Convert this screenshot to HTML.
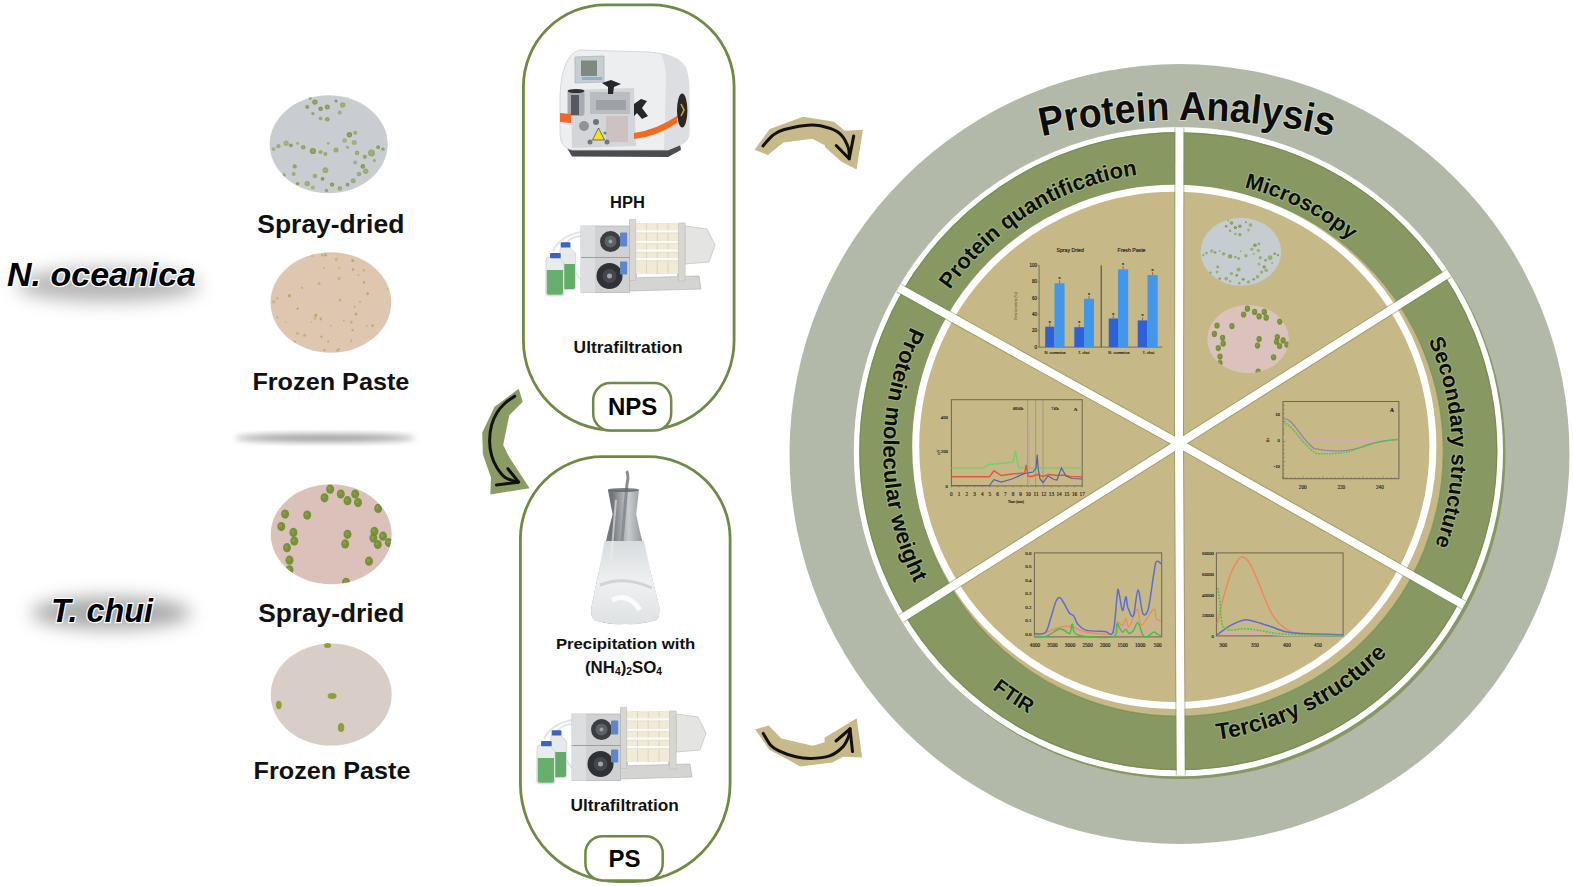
<!DOCTYPE html>
<html><head><meta charset="utf-8"><title>Protein Analysis</title>
<style>html,body{margin:0;padding:0;background:#fff;}body{width:1573px;height:886px;overflow:hidden;font-family:"Liberation Sans",sans-serif;}svg{display:block;}</style>
</head><body>
<svg width="1573" height="886" viewBox="0 0 1573 886">
<rect width="1573" height="886" fill="#fff"/>
<defs>
<filter id="blur6" x="-50%" y="-50%" width="200%" height="200%"><feGaussianBlur stdDeviation="7"/></filter>
<filter id="blur9" x="-50%" y="-80%" width="200%" height="260%"><feGaussianBlur stdDeviation="9"/></filter>
<filter id="blur3" x="-50%" y="-50%" width="200%" height="200%"><feGaussianBlur stdDeviation="3"/></filter>
<filter id="blur1" x="-20%" y="-20%" width="140%" height="140%"><feGaussianBlur stdDeviation="0.6"/></filter>
<clipPath id="wdisc"><circle cx="1178.4" cy="451.6" r="324"/></clipPath>
<clipPath id="pieclip"><circle cx="1174.3" cy="446.9" r="255.5"/></clipPath>
</defs>
<ellipse cx="108" cy="285" rx="92" ry="17" fill="#8a8a8a" filter="url(#blur9)" opacity="0.62"/>
<ellipse cx="111" cy="613" rx="80" ry="16" fill="#8a8a8a" filter="url(#blur9)" opacity="0.75"/>
<ellipse cx="325" cy="438" rx="90" ry="4" fill="#9c9c9c" filter="url(#blur3)"/>
<text x="7" y="285.7" font-size="33" font-family="Liberation Sans, sans-serif" font-weight="bold" font-style="italic" textLength="189" lengthAdjust="spacingAndGlyphs" fill="#000" stroke="#fff" stroke-width="2.5" paint-order="stroke">N. oceanica</text>
<text x="51" y="622" font-size="33" font-family="Liberation Sans, sans-serif" font-weight="bold" font-style="italic" textLength="102" lengthAdjust="spacingAndGlyphs" fill="#000" stroke="#fff" stroke-width="2.5" paint-order="stroke">T. chui</text>
<clipPath id="cl1"><ellipse cx="328.7" cy="144.3" rx="59" ry="49"/></clipPath>
<ellipse cx="328.7" cy="144.3" rx="59" ry="49" fill="#c9cdd2"/>
<g clip-path="url(#cl1)">
</g>
<g clip-path="url(#cl1)">
<circle cx="314.9" cy="102.1" r="2.7" fill="#74903f" opacity="0.8"/>
<circle cx="314.9" cy="102.1" r="1.2" fill="#a9bb7c" opacity="0.5"/>
<circle cx="307.2" cy="106.9" r="1.9" fill="#6d8a3a" opacity="0.8"/>
<circle cx="307.2" cy="106.9" r="0.9" fill="#a9bb7c" opacity="0.5"/>
<circle cx="320.6" cy="108.8" r="2.3" fill="#6d8a3a" opacity="0.8"/>
<circle cx="320.6" cy="108.8" r="1.0" fill="#a9bb7c" opacity="0.5"/>
<circle cx="327.3" cy="106.9" r="2.5" fill="#74903f" opacity="0.8"/>
<circle cx="327.3" cy="106.9" r="1.1" fill="#a9bb7c" opacity="0.5"/>
<circle cx="327.3" cy="119.3" r="2.3" fill="#7e9a48" opacity="0.8"/>
<circle cx="327.3" cy="119.3" r="1.0" fill="#a9bb7c" opacity="0.5"/>
<circle cx="339.8" cy="112.6" r="2.1" fill="#94aa62" opacity="0.8"/>
<circle cx="339.8" cy="112.6" r="0.9" fill="#a9bb7c" opacity="0.5"/>
<circle cx="342.7" cy="105.0" r="2.7" fill="#89a455" opacity="0.8"/>
<circle cx="342.7" cy="105.0" r="1.2" fill="#a9bb7c" opacity="0.5"/>
<circle cx="312.9" cy="113.6" r="1.7" fill="#7e9a48" opacity="0.8"/>
<circle cx="312.9" cy="113.6" r="0.8" fill="#a9bb7c" opacity="0.5"/>
<circle cx="320.6" cy="118.4" r="1.9" fill="#89a455" opacity="0.8"/>
<circle cx="320.6" cy="118.4" r="0.9" fill="#a9bb7c" opacity="0.5"/>
<circle cx="310.1" cy="98.2" r="1.5" fill="#7e9a48" opacity="0.8"/>
<circle cx="310.1" cy="98.2" r="0.7" fill="#a9bb7c" opacity="0.5"/>
<circle cx="336.0" cy="101.1" r="1.5" fill="#6d8a3a" opacity="0.8"/>
<circle cx="336.0" cy="101.1" r="0.7" fill="#a9bb7c" opacity="0.5"/>
<circle cx="273.6" cy="149.1" r="1.9" fill="#94aa62" opacity="0.8"/>
<circle cx="273.6" cy="149.1" r="0.9" fill="#a9bb7c" opacity="0.5"/>
<circle cx="278.4" cy="146.2" r="2.1" fill="#89a455" opacity="0.8"/>
<circle cx="278.4" cy="146.2" r="0.9" fill="#a9bb7c" opacity="0.5"/>
<circle cx="286.1" cy="143.3" r="2.7" fill="#94aa62" opacity="0.8"/>
<circle cx="286.1" cy="143.3" r="1.2" fill="#a9bb7c" opacity="0.5"/>
<circle cx="290.9" cy="145.3" r="1.9" fill="#74903f" opacity="0.8"/>
<circle cx="290.9" cy="145.3" r="0.9" fill="#a9bb7c" opacity="0.5"/>
<circle cx="303.3" cy="147.2" r="2.3" fill="#7e9a48" opacity="0.8"/>
<circle cx="303.3" cy="147.2" r="1.0" fill="#a9bb7c" opacity="0.5"/>
<circle cx="312.9" cy="151.0" r="3.1" fill="#74903f" opacity="0.8"/>
<circle cx="312.9" cy="151.0" r="1.4" fill="#a9bb7c" opacity="0.5"/>
<circle cx="320.6" cy="152.0" r="2.1" fill="#89a455" opacity="0.8"/>
<circle cx="320.6" cy="152.0" r="0.9" fill="#a9bb7c" opacity="0.5"/>
<circle cx="325.4" cy="153.9" r="1.9" fill="#7e9a48" opacity="0.8"/>
<circle cx="325.4" cy="153.9" r="0.9" fill="#a9bb7c" opacity="0.5"/>
<circle cx="336.0" cy="150.1" r="2.5" fill="#89a455" opacity="0.8"/>
<circle cx="336.0" cy="150.1" r="1.1" fill="#a9bb7c" opacity="0.5"/>
<circle cx="344.6" cy="140.5" r="2.3" fill="#94aa62" opacity="0.8"/>
<circle cx="344.6" cy="140.5" r="1.0" fill="#a9bb7c" opacity="0.5"/>
<circle cx="349.4" cy="134.7" r="2.7" fill="#6d8a3a" opacity="0.8"/>
<circle cx="349.4" cy="134.7" r="1.2" fill="#a9bb7c" opacity="0.5"/>
<circle cx="355.2" cy="132.8" r="2.1" fill="#89a455" opacity="0.8"/>
<circle cx="355.2" cy="132.8" r="0.9" fill="#a9bb7c" opacity="0.5"/>
<circle cx="354.2" cy="142.4" r="2.5" fill="#94aa62" opacity="0.8"/>
<circle cx="354.2" cy="142.4" r="1.1" fill="#a9bb7c" opacity="0.5"/>
<circle cx="357.1" cy="152.9" r="2.3" fill="#89a455" opacity="0.8"/>
<circle cx="357.1" cy="152.9" r="1.0" fill="#a9bb7c" opacity="0.5"/>
<circle cx="364.8" cy="156.8" r="2.1" fill="#7e9a48" opacity="0.8"/>
<circle cx="364.8" cy="156.8" r="0.9" fill="#a9bb7c" opacity="0.5"/>
<circle cx="371.5" cy="152.9" r="3.5" fill="#89a455" opacity="0.8"/>
<circle cx="371.5" cy="152.9" r="1.6" fill="#a9bb7c" opacity="0.5"/>
<circle cx="378.2" cy="147.2" r="1.9" fill="#74903f" opacity="0.8"/>
<circle cx="378.2" cy="147.2" r="0.9" fill="#a9bb7c" opacity="0.5"/>
<circle cx="383.0" cy="149.1" r="1.7" fill="#74903f" opacity="0.8"/>
<circle cx="383.0" cy="149.1" r="0.8" fill="#a9bb7c" opacity="0.5"/>
<circle cx="297.6" cy="143.3" r="1.5" fill="#94aa62" opacity="0.8"/>
<circle cx="297.6" cy="143.3" r="0.7" fill="#a9bb7c" opacity="0.5"/>
<circle cx="328.3" cy="143.3" r="1.3" fill="#89a455" opacity="0.8"/>
<circle cx="328.3" cy="143.3" r="0.6" fill="#a9bb7c" opacity="0.5"/>
<circle cx="347.5" cy="147.2" r="1.5" fill="#89a455" opacity="0.8"/>
<circle cx="347.5" cy="147.2" r="0.7" fill="#a9bb7c" opacity="0.5"/>
<circle cx="294.7" cy="166.4" r="2.1" fill="#7e9a48" opacity="0.8"/>
<circle cx="294.7" cy="166.4" r="0.9" fill="#a9bb7c" opacity="0.5"/>
<circle cx="284.1" cy="175.0" r="1.7" fill="#7e9a48" opacity="0.8"/>
<circle cx="284.1" cy="175.0" r="0.8" fill="#a9bb7c" opacity="0.5"/>
<circle cx="293.7" cy="174.0" r="1.9" fill="#89a455" opacity="0.8"/>
<circle cx="293.7" cy="174.0" r="0.9" fill="#a9bb7c" opacity="0.5"/>
<circle cx="307.2" cy="183.6" r="2.7" fill="#89a455" opacity="0.8"/>
<circle cx="307.2" cy="183.6" r="1.2" fill="#a9bb7c" opacity="0.5"/>
<circle cx="314.9" cy="176.0" r="2.3" fill="#89a455" opacity="0.8"/>
<circle cx="314.9" cy="176.0" r="1.0" fill="#a9bb7c" opacity="0.5"/>
<circle cx="325.4" cy="170.2" r="2.9" fill="#89a455" opacity="0.8"/>
<circle cx="325.4" cy="170.2" r="1.3" fill="#a9bb7c" opacity="0.5"/>
<circle cx="322.5" cy="178.8" r="1.9" fill="#6d8a3a" opacity="0.8"/>
<circle cx="322.5" cy="178.8" r="0.9" fill="#a9bb7c" opacity="0.5"/>
<circle cx="332.1" cy="184.6" r="2.1" fill="#6d8a3a" opacity="0.8"/>
<circle cx="332.1" cy="184.6" r="0.9" fill="#a9bb7c" opacity="0.5"/>
<circle cx="339.8" cy="188.4" r="2.3" fill="#89a455" opacity="0.8"/>
<circle cx="339.8" cy="188.4" r="1.0" fill="#a9bb7c" opacity="0.5"/>
<circle cx="347.5" cy="184.6" r="1.9" fill="#74903f" opacity="0.8"/>
<circle cx="347.5" cy="184.6" r="0.9" fill="#a9bb7c" opacity="0.5"/>
<circle cx="353.2" cy="180.8" r="2.5" fill="#89a455" opacity="0.8"/>
<circle cx="353.2" cy="180.8" r="1.1" fill="#a9bb7c" opacity="0.5"/>
<circle cx="359.0" cy="174.0" r="2.3" fill="#89a455" opacity="0.8"/>
<circle cx="359.0" cy="174.0" r="1.0" fill="#a9bb7c" opacity="0.5"/>
<circle cx="365.7" cy="171.2" r="2.7" fill="#89a455" opacity="0.8"/>
<circle cx="365.7" cy="171.2" r="1.2" fill="#a9bb7c" opacity="0.5"/>
<circle cx="355.2" cy="162.5" r="2.1" fill="#94aa62" opacity="0.8"/>
<circle cx="355.2" cy="162.5" r="0.9" fill="#a9bb7c" opacity="0.5"/>
<circle cx="362.8" cy="166.4" r="2.3" fill="#6d8a3a" opacity="0.8"/>
<circle cx="362.8" cy="166.4" r="1.0" fill="#a9bb7c" opacity="0.5"/>
<circle cx="326.4" cy="190.4" r="1.7" fill="#7e9a48" opacity="0.8"/>
<circle cx="326.4" cy="190.4" r="0.8" fill="#a9bb7c" opacity="0.5"/>
<circle cx="297.6" cy="183.6" r="1.7" fill="#6d8a3a" opacity="0.8"/>
<circle cx="297.6" cy="183.6" r="0.8" fill="#a9bb7c" opacity="0.5"/>
<circle cx="312.9" cy="187.5" r="1.9" fill="#94aa62" opacity="0.8"/>
<circle cx="312.9" cy="187.5" r="0.9" fill="#a9bb7c" opacity="0.5"/>
<circle cx="288.0" cy="181.7" r="1.5" fill="#89a455" opacity="0.8"/>
<circle cx="288.0" cy="181.7" r="0.7" fill="#a9bb7c" opacity="0.5"/>
<circle cx="374.4" cy="160.6" r="1.5" fill="#89a455" opacity="0.8"/>
<circle cx="374.4" cy="160.6" r="0.7" fill="#a9bb7c" opacity="0.5"/>
</g>
<clipPath id="cl2"><ellipse cx="330.9" cy="302.5" rx="60.4" ry="50.2"/></clipPath>
<ellipse cx="330.9" cy="302.5" rx="60.4" ry="50.2" fill="#dfc6b0"/>
<g clip-path="url(#cl2)">
<ellipse cx="387.5" cy="289.2" rx="0.8" ry="0.9" fill="#b9b07a" opacity="0.85"/>
<ellipse cx="314.9" cy="318.3" rx="1.4" ry="1.6" fill="#c2b27f" opacity="0.85"/>
<ellipse cx="330.6" cy="325.6" rx="0.8" ry="0.9" fill="#aca76e" opacity="0.85"/>
<ellipse cx="352.5" cy="330.1" rx="1.1" ry="1.2" fill="#aca76e" opacity="0.85"/>
<ellipse cx="358.4" cy="274.9" rx="1.1" ry="1.2" fill="#c2b27f" opacity="0.85"/>
<ellipse cx="273.6" cy="301.9" rx="1.5" ry="1.7" fill="#c2b27f" opacity="0.85"/>
<ellipse cx="297.6" cy="308.7" rx="1.1" ry="1.2" fill="#aca76e" opacity="0.85"/>
<ellipse cx="343.9" cy="320.7" rx="1.0" ry="1.1" fill="#b9b07a" opacity="0.85"/>
<ellipse cx="320.7" cy="319.0" rx="1.2" ry="1.4" fill="#aca76e" opacity="0.85"/>
<ellipse cx="319.1" cy="283.5" rx="1.5" ry="1.7" fill="#c2b27f" opacity="0.85"/>
<ellipse cx="325.3" cy="254.9" rx="1.4" ry="1.6" fill="#aca76e" opacity="0.85"/>
<ellipse cx="294.6" cy="342.0" rx="1.5" ry="1.8" fill="#b9b07a" opacity="0.85"/>
<ellipse cx="367.6" cy="293.6" rx="1.4" ry="1.6" fill="#aca76e" opacity="0.85"/>
<ellipse cx="289.4" cy="295.8" rx="1.5" ry="1.7" fill="#aca76e" opacity="0.85"/>
<ellipse cx="277.3" cy="298.2" rx="1.3" ry="1.5" fill="#c2b27f" opacity="0.85"/>
<ellipse cx="364.0" cy="282.4" rx="1.2" ry="1.4" fill="#aca76e" opacity="0.85"/>
<ellipse cx="324.0" cy="268.0" rx="1.0" ry="1.1" fill="#c2b27f" opacity="0.85"/>
<ellipse cx="352.7" cy="260.4" rx="1.5" ry="1.7" fill="#aca76e" opacity="0.85"/>
<ellipse cx="324.3" cy="350.1" rx="1.0" ry="1.2" fill="#aca76e" opacity="0.85"/>
<ellipse cx="353.0" cy="269.6" rx="1.2" ry="1.4" fill="#aca76e" opacity="0.85"/>
<ellipse cx="302.2" cy="287.8" rx="0.9" ry="1.1" fill="#aca76e" opacity="0.85"/>
<ellipse cx="297.5" cy="333.4" rx="1.5" ry="1.7" fill="#c2b27f" opacity="0.85"/>
<ellipse cx="322.2" cy="255.2" rx="0.9" ry="1.1" fill="#aca76e" opacity="0.85"/>
<ellipse cx="366.9" cy="326.0" rx="0.8" ry="0.9" fill="#aca76e" opacity="0.85"/>
<ellipse cx="339.2" cy="349.0" rx="0.9" ry="1.0" fill="#aca76e" opacity="0.85"/>
<ellipse cx="351.3" cy="322.1" rx="1.4" ry="1.6" fill="#b9b07a" opacity="0.85"/>
<ellipse cx="285.6" cy="322.3" rx="0.8" ry="0.9" fill="#c2b27f" opacity="0.85"/>
<ellipse cx="311.6" cy="321.8" rx="0.8" ry="0.9" fill="#b9b07a" opacity="0.85"/>
<ellipse cx="340.1" cy="300.2" rx="1.3" ry="1.6" fill="#b9b07a" opacity="0.85"/>
<ellipse cx="315.8" cy="315.3" rx="1.5" ry="1.7" fill="#aca76e" opacity="0.85"/>
<ellipse cx="351.2" cy="340.7" rx="1.1" ry="1.2" fill="#b9b07a" opacity="0.85"/>
<ellipse cx="339.1" cy="278.5" rx="1.5" ry="1.8" fill="#b9b07a" opacity="0.85"/>
<ellipse cx="304.5" cy="335.2" rx="1.4" ry="1.6" fill="#b9b07a" opacity="0.85"/>
<ellipse cx="321.4" cy="336.7" rx="1.0" ry="1.2" fill="#aca76e" opacity="0.85"/>
<ellipse cx="336.1" cy="259.5" rx="1.5" ry="1.7" fill="#c2b27f" opacity="0.85"/>
<ellipse cx="363.8" cy="270.4" rx="1.1" ry="1.3" fill="#b9b07a" opacity="0.85"/>
<ellipse cx="372.6" cy="325.6" rx="1.4" ry="1.6" fill="#b9b07a" opacity="0.85"/>
<ellipse cx="277.4" cy="317.6" rx="0.9" ry="1.0" fill="#aca76e" opacity="0.85"/>
<ellipse cx="339.1" cy="268.1" rx="1.0" ry="1.2" fill="#c2b27f" opacity="0.85"/>
<ellipse cx="328.2" cy="341.5" rx="1.1" ry="1.3" fill="#b9b07a" opacity="0.85"/>
<ellipse cx="312.4" cy="255.8" rx="1.3" ry="1.5" fill="#c2b27f" opacity="0.85"/>
<ellipse cx="354.6" cy="306.7" rx="0.9" ry="1.0" fill="#aca76e" opacity="0.85"/>
<ellipse cx="337.5" cy="350.2" rx="1.3" ry="1.5" fill="#b9b07a" opacity="0.85"/>
<ellipse cx="360.0" cy="301.7" rx="1.1" ry="1.3" fill="#c2b27f" opacity="0.85"/>
<ellipse cx="356.1" cy="314.1" rx="1.4" ry="1.6" fill="#aca76e" opacity="0.85"/>
</g>
<clipPath id="cl3"><ellipse cx="331.2" cy="534.3" rx="60.5" ry="50"/></clipPath>
<ellipse cx="331.2" cy="534.3" rx="60.5" ry="50" fill="#dcc1bb"/>
<g clip-path="url(#cl3)">
</g>
<g clip-path="url(#cl3)">
<ellipse cx="330.2" cy="489.2" rx="4.0" ry="4.6" fill="#6d8b2c" opacity="0.9"/>
<ellipse cx="329.4" cy="488.4" rx="1.6" ry="1.8" fill="#8aa645" opacity="0.7"/>
<ellipse cx="324.5" cy="497.8" rx="4.0" ry="4.6" fill="#6d8b2c" opacity="0.9"/>
<ellipse cx="323.7" cy="497.0" rx="1.6" ry="1.8" fill="#8aa645" opacity="0.7"/>
<ellipse cx="340.8" cy="494.0" rx="4.0" ry="4.6" fill="#6d8b2c" opacity="0.9"/>
<ellipse cx="340.0" cy="493.2" rx="1.6" ry="1.8" fill="#8aa645" opacity="0.7"/>
<ellipse cx="347.5" cy="500.7" rx="4.0" ry="4.6" fill="#6d8b2c" opacity="0.9"/>
<ellipse cx="346.7" cy="499.9" rx="1.6" ry="1.8" fill="#8aa645" opacity="0.7"/>
<ellipse cx="355.2" cy="494.0" rx="4.0" ry="4.6" fill="#6d8b2c" opacity="0.9"/>
<ellipse cx="354.4" cy="493.2" rx="1.6" ry="1.8" fill="#8aa645" opacity="0.7"/>
<ellipse cx="358.0" cy="502.6" rx="4.0" ry="4.6" fill="#6d8b2c" opacity="0.9"/>
<ellipse cx="357.2" cy="501.8" rx="1.6" ry="1.8" fill="#8aa645" opacity="0.7"/>
<ellipse cx="378.2" cy="508.4" rx="4.0" ry="4.6" fill="#6d8b2c" opacity="0.9"/>
<ellipse cx="377.4" cy="507.6" rx="1.6" ry="1.8" fill="#8aa645" opacity="0.7"/>
<ellipse cx="285.1" cy="514.1" rx="4.0" ry="4.6" fill="#6d8b2c" opacity="0.9"/>
<ellipse cx="284.3" cy="513.3" rx="1.6" ry="1.8" fill="#8aa645" opacity="0.7"/>
<ellipse cx="307.2" cy="515.1" rx="4.0" ry="4.6" fill="#6d8b2c" opacity="0.9"/>
<ellipse cx="306.4" cy="514.3" rx="1.6" ry="1.8" fill="#8aa645" opacity="0.7"/>
<ellipse cx="281.3" cy="526.6" rx="4.0" ry="4.6" fill="#6d8b2c" opacity="0.9"/>
<ellipse cx="280.5" cy="525.8" rx="1.6" ry="1.8" fill="#8aa645" opacity="0.7"/>
<ellipse cx="293.4" cy="532.4" rx="4.0" ry="4.6" fill="#6d8b2c" opacity="0.9"/>
<ellipse cx="292.6" cy="531.6" rx="1.6" ry="1.8" fill="#8aa645" opacity="0.7"/>
<ellipse cx="294.3" cy="541.0" rx="4.0" ry="4.6" fill="#6d8b2c" opacity="0.9"/>
<ellipse cx="293.5" cy="540.2" rx="1.6" ry="1.8" fill="#8aa645" opacity="0.7"/>
<ellipse cx="287.0" cy="547.7" rx="4.0" ry="4.6" fill="#6d8b2c" opacity="0.9"/>
<ellipse cx="286.2" cy="546.9" rx="1.6" ry="1.8" fill="#8aa645" opacity="0.7"/>
<ellipse cx="289.5" cy="560.2" rx="4.0" ry="4.6" fill="#6d8b2c" opacity="0.9"/>
<ellipse cx="288.7" cy="559.4" rx="1.6" ry="1.8" fill="#8aa645" opacity="0.7"/>
<ellipse cx="289.5" cy="569.8" rx="4.0" ry="4.6" fill="#6d8b2c" opacity="0.9"/>
<ellipse cx="288.7" cy="569.0" rx="1.6" ry="1.8" fill="#8aa645" opacity="0.7"/>
<ellipse cx="347.5" cy="534.3" rx="4.0" ry="4.6" fill="#6d8b2c" opacity="0.9"/>
<ellipse cx="346.7" cy="533.5" rx="1.6" ry="1.8" fill="#8aa645" opacity="0.7"/>
<ellipse cx="345.2" cy="543.9" rx="4.0" ry="4.6" fill="#6d8b2c" opacity="0.9"/>
<ellipse cx="344.4" cy="543.1" rx="1.6" ry="1.8" fill="#8aa645" opacity="0.7"/>
<ellipse cx="374.4" cy="531.4" rx="4.0" ry="4.6" fill="#6d8b2c" opacity="0.9"/>
<ellipse cx="373.6" cy="530.6" rx="1.6" ry="1.8" fill="#8aa645" opacity="0.7"/>
<ellipse cx="373.4" cy="538.1" rx="4.0" ry="4.6" fill="#6d8b2c" opacity="0.9"/>
<ellipse cx="372.6" cy="537.3" rx="1.6" ry="1.8" fill="#8aa645" opacity="0.7"/>
<ellipse cx="383.0" cy="536.2" rx="4.0" ry="4.6" fill="#6d8b2c" opacity="0.9"/>
<ellipse cx="382.2" cy="535.4" rx="1.6" ry="1.8" fill="#8aa645" opacity="0.7"/>
<ellipse cx="377.8" cy="544.5" rx="4.0" ry="4.6" fill="#6d8b2c" opacity="0.9"/>
<ellipse cx="377.0" cy="543.7" rx="1.6" ry="1.8" fill="#8aa645" opacity="0.7"/>
<ellipse cx="388.8" cy="542.6" rx="4.0" ry="4.6" fill="#6d8b2c" opacity="0.9"/>
<ellipse cx="388.0" cy="541.8" rx="1.6" ry="1.8" fill="#8aa645" opacity="0.7"/>
<ellipse cx="369.0" cy="561.2" rx="4.0" ry="4.6" fill="#6d8b2c" opacity="0.9"/>
<ellipse cx="368.2" cy="560.4" rx="1.6" ry="1.8" fill="#8aa645" opacity="0.7"/>
<ellipse cx="346.1" cy="582.3" rx="4.0" ry="4.6" fill="#6d8b2c" opacity="0.9"/>
<ellipse cx="345.3" cy="581.5" rx="1.6" ry="1.8" fill="#8aa645" opacity="0.7"/>
</g>
<clipPath id="cl4"><ellipse cx="331.2" cy="694.6" rx="60.5" ry="51"/></clipPath>
<ellipse cx="331.2" cy="694.6" rx="60.5" ry="51" fill="#d8cdc7"/>
<g clip-path="url(#cl4)">
</g>
<ellipse cx="327.6" cy="645.4" rx="3.5" ry="2.5" fill="#8f9e3c"/>
<ellipse cx="278.8" cy="705" rx="2.8" ry="4.2" fill="#8f9e3c"/>
<ellipse cx="332.1" cy="696" rx="4.5" ry="3" fill="#8f9e3c"/>
<ellipse cx="341.1" cy="727.6" rx="3.2" ry="4.5" fill="#8f9e3c"/>
<text x="257.3" y="232.6" font-size="25" font-family="Liberation Sans, sans-serif" font-weight="bold" textLength="147" lengthAdjust="spacingAndGlyphs" fill="#111">Spray-dried</text>
<text x="252.4" y="390" font-size="24" font-family="Liberation Sans, sans-serif" font-weight="bold" textLength="157" lengthAdjust="spacingAndGlyphs" fill="#111">Frozen Paste</text>
<text x="258.2" y="621.6" font-size="25" font-family="Liberation Sans, sans-serif" font-weight="bold" textLength="146" lengthAdjust="spacingAndGlyphs" fill="#111">Spray-dried</text>
<text x="253.5" y="779" font-size="24" font-family="Liberation Sans, sans-serif" font-weight="bold" textLength="157" lengthAdjust="spacingAndGlyphs" fill="#111">Frozen Paste</text>
<path d="M605.4,4.8 L652.1,4.8 A82,82 0 0 1 734.1,86.8 L734.1,340.20000000000005 A90,90 0 0 1 644.1,430.20000000000005 L613.4,430.20000000000005 A90,90 0 0 1 523.4,340.20000000000005 L523.4,86.8 A82,82 0 0 1 605.4,4.8 Z" fill="none" stroke="#6f8a45" stroke-width="2.8"/>
<path d="M602.4,456.7 L648.1,456.7 A82,82 0 0 1 730.1,538.7 L730.1,783.6 A98,98 0 0 1 632.1,881.6 L618.4,881.6 A98,98 0 0 1 520.4,783.6 L520.4,538.7 A82,82 0 0 1 602.4,456.7 Z" fill="none" stroke="#6f8a45" stroke-width="2.8"/>
<rect x="593.2" y="383.1" width="78" height="47.4" rx="17" fill="#fff" stroke="#6f8a45" stroke-width="2.5"/>
<rect x="585.4" y="836.2" width="77.3" height="44.2" rx="17" fill="#fff" stroke="#6f8a45" stroke-width="2.5"/>
<text x="632.7" y="415.4" font-size="24" font-family="Liberation Sans, sans-serif" font-weight="bold" text-anchor="middle" fill="#000">NPS</text>
<text x="624.5" y="867.1" font-size="24" font-family="Liberation Sans, sans-serif" font-weight="bold" text-anchor="middle" fill="#000">PS</text>
<text x="610" y="207.5" font-size="16" font-family="Liberation Sans, sans-serif" font-weight="bold" textLength="34.8" lengthAdjust="spacingAndGlyphs" fill="#111">HPH</text>
<text x="573.6" y="352.6" font-size="16" font-family="Liberation Sans, sans-serif" font-weight="bold" textLength="109" lengthAdjust="spacingAndGlyphs" fill="#111">Ultrafiltration</text>
<text x="555.9" y="649.2" font-size="15.5" font-family="Liberation Sans, sans-serif" font-weight="bold" textLength="139.4" lengthAdjust="spacingAndGlyphs" fill="#111">Precipitation with</text>
<text x="570.5" y="810.6" font-size="16" font-family="Liberation Sans, sans-serif" font-weight="bold" textLength="108.4" lengthAdjust="spacingAndGlyphs" fill="#111">Ultrafiltration</text>
<text x="585" y="672.7" font-size="16.5" font-family="Liberation Sans, sans-serif" font-weight="bold" fill="#111" textLength="77" lengthAdjust="spacingAndGlyphs">(NH<tspan font-size="10" dy="2.5">4</tspan><tspan dy="-2.5">)</tspan><tspan font-size="10" dy="2.5">2</tspan><tspan dy="-2.5">SO</tspan><tspan font-size="10" dy="2.5">4</tspan></text>
<g><path d="M567,148 L680,144 L681,150 L668,157 L572,156.5 Z" fill="#4a4c50"/><path d="M560,113 Q559,80 565,66 Q570,52 580,50 L650,52 Q676,54 685,66 Q689,75 689,95 L689,134 Q688,142 680,145 L668,150 L572,150 Q561,148 560,135 Z" fill="#eceef0" stroke="#cfd1d4" stroke-width="0.8"/><path d="M660,53 Q680,58 686,70 Q689,80 689,100 L689,134 Q688,142 680,145 L668,150 L664,150 L666,80 Q666,62 660,53Z" fill="#dcdee1"/><path d="M575,57 L604,56 L604,82 L575,83Z" fill="#c6ced3" stroke="#a9b0b6" stroke-width="0.7"/><rect x="581" y="60.5" width="16" height="15.5" fill="#7c8a80"/><rect x="582" y="77" width="20" height="3" fill="#8fb0c8"/><path d="M571,90 L634,88 L636,146 L572,148Z" fill="#d3d5d8"/><rect x="590" y="92" width="40" height="22" fill="#b9bcc0"/><rect x="596" y="100" width="30" height="10" fill="#9ea2a7"/><rect x="606" y="116" width="22" height="26" fill="#cbbdbb" opacity="0.8"/><circle cx="584" cy="126" r="5" fill="#8f9398"/><circle cx="596" cy="122" r="3" fill="#6e7277"/><circle cx="590" cy="142" r="2.5" fill="#777"/><circle cx="607" cy="142" r="2.5" fill="#777"/><rect x="567.5" y="90" width="17" height="26" rx="3" fill="#a7abb0"/><rect x="571" y="95" width="8" height="20" fill="#55595f"/><ellipse cx="576" cy="91" rx="8.5" ry="2" fill="#2e3034"/><path d="M602,83 L611,80 L621,84 L614,87 L613,94 L608,94 L608,87 Z" fill="#25272a"/><path d="M634,104 L641,99 L647,101 L642,108 L648,116 L642,119 L637,113 L634,116 Z" fill="#25272a"/><path d="M560,113 L571,114 L571,123 L560,122Z" fill="#f0672a"/><path d="M634,133 Q656,130 677,116 L677,123 Q656,137 634,139Z" fill="#f36a22"/><path d="M592.5,140 L598.5,128 L604.5,140Z" fill="#f3e21c" stroke="#2a2a2a" stroke-width="0.6"/><circle cx="605" cy="133" r="1.5" fill="#2aa84a"/><ellipse cx="682.2" cy="110.5" rx="5.2" ry="17" fill="#2c2722"/><path d="M681,104 L684,110 L681,116" stroke="#caa23a" stroke-width="1.6" fill="none"/></g>
<g transform="translate(0,0)"><path d="M553,251 Q560,236 581,232" stroke="#e2e5e7" stroke-width="2.2" fill="none"/><path d="M566,243 Q572,236 582,236" stroke="#e2e5e7" stroke-width="1.8" fill="none"/><path d="M574,268 Q578,280 586,283" stroke="#e2e5e7" stroke-width="1.8" fill="none"/><path d="M627,278 L699,276 L701,289 L629,291Z" fill="#d4d5d3" stroke="#b5b7b5" stroke-width="0.7"/><rect x="633" y="266" width="4" height="12" fill="#c9c9c5"/><rect x="677" y="266" width="4" height="12" fill="#c9c9c5"/><path d="M685,226 L707,229 L715,245 L709,262 L685,264Z" fill="#e4e4e2" stroke="#c4c4c2" stroke-width="0.8"/><rect x="635" y="223" width="44" height="51" fill="#f1ead6"/><line x1="646.5" y1="223" x2="646.5" y2="274" stroke="#ddd2b4" stroke-width="0.9"/><line x1="657.2" y1="223" x2="657.2" y2="274" stroke="#ddd2b4" stroke-width="0.9"/><line x1="668" y1="223" x2="668" y2="274" stroke="#ddd2b4" stroke-width="0.9"/><line x1="633" y1="231.5" x2="683" y2="231.5" stroke="#fbfbf8" stroke-width="2.4"/><line x1="633" y1="232.9" x2="683" y2="232.9" stroke="#d8d2c0" stroke-width="0.5"/><line x1="633" y1="242.2" x2="683" y2="242.2" stroke="#fbfbf8" stroke-width="2.4"/><line x1="633" y1="243.6" x2="683" y2="243.6" stroke="#d8d2c0" stroke-width="0.5"/><line x1="633" y1="250.8" x2="683" y2="250.8" stroke="#fbfbf8" stroke-width="2.4"/><line x1="633" y1="252.20000000000002" x2="683" y2="252.20000000000002" stroke="#d8d2c0" stroke-width="0.5"/><line x1="633" y1="259.3" x2="683" y2="259.3" stroke="#fbfbf8" stroke-width="2.4"/><line x1="633" y1="260.7" x2="683" y2="260.7" stroke="#d8d2c0" stroke-width="0.5"/><rect x="629.4" y="219.7" width="6.4" height="61" fill="#d7d6d0" stroke="#bdbcb6" stroke-width="0.6"/><rect x="678.7" y="223" width="6.4" height="58" fill="#d7d6d0" stroke="#bdbcb6" stroke-width="0.6"/><rect x="581" y="226" width="48.4" height="66.6" fill="#cfd1d2" stroke="#aeb0b2" stroke-width="0.7"/><rect x="581" y="226" width="14" height="66.6" fill="#dcdedf"/><line x1="581" y1="257.5" x2="629.4" y2="257.5" stroke="#9c9ea0" stroke-width="1.2"/><circle cx="610.5" cy="241.6" r="10.5" fill="#3a3d41"/><circle cx="610.5" cy="241.6" r="6" fill="#5d6166"/><circle cx="610.5" cy="241.6" r="2" fill="#9aa0a6"/><circle cx="609.5" cy="276" r="13" fill="#2e3135"/><circle cx="609.5" cy="276" r="7" fill="#44484d"/><circle cx="609.5" cy="276" r="2.5" fill="#a0a4a8"/><rect x="620" y="232.5" width="7.2" height="14" rx="1" fill="#5f86c6"/><rect x="620" y="261.5" width="7.2" height="13" rx="1" fill="#5f86c6"/><path d="M560,249 Q560,246 563,246 L568,246 Q571,246 571,249 L575.7,253 L575.7,287 Q575.7,289.4 573,289.4 L562,289.4 Q559.7,289.4 559.7,287Z" fill="#e6eaea" stroke="#c9cfcf" stroke-width="0.7"/><path d="M560.5,264 L575,264 L575,287 Q575,289 573,289 L562.5,289 Q560.5,289 560.5,287Z" fill="#55a45c" opacity="0.9"/><rect x="560.7" y="242.2" width="9.7" height="5.4" rx="1" fill="#3c62c4"/><path d="M546,260 Q546,257 549,257 L558,257 Q561,257 561,260 L564,263 L564,293.5 Q564,295.8 561.5,295.8 L548.2,295.8 Q545.7,295.8 545.7,293.5Z" fill="#e8ecec" stroke="#c9cfcf" stroke-width="0.7"/><path d="M546.8,270 L563,270 L563,293 Q563,294.7 561,294.7 L548.8,294.7 Q546.8,294.7 546.8,293Z" fill="#5aa860" opacity="0.9"/><rect x="550" y="252.9" width="10.7" height="5.4" rx="1" fill="#3c62c4"/></g>
<g transform="translate(-9,488)"><path d="M553,251 Q560,236 581,232" stroke="#e2e5e7" stroke-width="2.2" fill="none"/><path d="M566,243 Q572,236 582,236" stroke="#e2e5e7" stroke-width="1.8" fill="none"/><path d="M574,268 Q578,280 586,283" stroke="#e2e5e7" stroke-width="1.8" fill="none"/><path d="M627,278 L699,276 L701,289 L629,291Z" fill="#d4d5d3" stroke="#b5b7b5" stroke-width="0.7"/><rect x="633" y="266" width="4" height="12" fill="#c9c9c5"/><rect x="677" y="266" width="4" height="12" fill="#c9c9c5"/><path d="M685,226 L707,229 L715,245 L709,262 L685,264Z" fill="#e4e4e2" stroke="#c4c4c2" stroke-width="0.8"/><rect x="635" y="223" width="44" height="51" fill="#f1ead6"/><line x1="646.5" y1="223" x2="646.5" y2="274" stroke="#ddd2b4" stroke-width="0.9"/><line x1="657.2" y1="223" x2="657.2" y2="274" stroke="#ddd2b4" stroke-width="0.9"/><line x1="668" y1="223" x2="668" y2="274" stroke="#ddd2b4" stroke-width="0.9"/><line x1="633" y1="231.5" x2="683" y2="231.5" stroke="#fbfbf8" stroke-width="2.4"/><line x1="633" y1="232.9" x2="683" y2="232.9" stroke="#d8d2c0" stroke-width="0.5"/><line x1="633" y1="242.2" x2="683" y2="242.2" stroke="#fbfbf8" stroke-width="2.4"/><line x1="633" y1="243.6" x2="683" y2="243.6" stroke="#d8d2c0" stroke-width="0.5"/><line x1="633" y1="250.8" x2="683" y2="250.8" stroke="#fbfbf8" stroke-width="2.4"/><line x1="633" y1="252.20000000000002" x2="683" y2="252.20000000000002" stroke="#d8d2c0" stroke-width="0.5"/><line x1="633" y1="259.3" x2="683" y2="259.3" stroke="#fbfbf8" stroke-width="2.4"/><line x1="633" y1="260.7" x2="683" y2="260.7" stroke="#d8d2c0" stroke-width="0.5"/><rect x="629.4" y="219.7" width="6.4" height="61" fill="#d7d6d0" stroke="#bdbcb6" stroke-width="0.6"/><rect x="678.7" y="223" width="6.4" height="58" fill="#d7d6d0" stroke="#bdbcb6" stroke-width="0.6"/><rect x="581" y="226" width="48.4" height="66.6" fill="#cfd1d2" stroke="#aeb0b2" stroke-width="0.7"/><rect x="581" y="226" width="14" height="66.6" fill="#dcdedf"/><line x1="581" y1="257.5" x2="629.4" y2="257.5" stroke="#9c9ea0" stroke-width="1.2"/><circle cx="610.5" cy="241.6" r="10.5" fill="#3a3d41"/><circle cx="610.5" cy="241.6" r="6" fill="#5d6166"/><circle cx="610.5" cy="241.6" r="2" fill="#9aa0a6"/><circle cx="609.5" cy="276" r="13" fill="#2e3135"/><circle cx="609.5" cy="276" r="7" fill="#44484d"/><circle cx="609.5" cy="276" r="2.5" fill="#a0a4a8"/><rect x="620" y="232.5" width="7.2" height="14" rx="1" fill="#5f86c6"/><rect x="620" y="261.5" width="7.2" height="13" rx="1" fill="#5f86c6"/><path d="M560,249 Q560,246 563,246 L568,246 Q571,246 571,249 L575.7,253 L575.7,287 Q575.7,289.4 573,289.4 L562,289.4 Q559.7,289.4 559.7,287Z" fill="#e6eaea" stroke="#c9cfcf" stroke-width="0.7"/><path d="M560.5,264 L575,264 L575,287 Q575,289 573,289 L562.5,289 Q560.5,289 560.5,287Z" fill="#55a45c" opacity="0.9"/><rect x="560.7" y="242.2" width="9.7" height="5.4" rx="1" fill="#3c62c4"/><path d="M546,260 Q546,257 549,257 L558,257 Q561,257 561,260 L564,263 L564,293.5 Q564,295.8 561.5,295.8 L548.2,295.8 Q545.7,295.8 545.7,293.5Z" fill="#e8ecec" stroke="#c9cfcf" stroke-width="0.7"/><path d="M546.8,270 L563,270 L563,293 Q563,294.7 561,294.7 L548.8,294.7 Q546.8,294.7 546.8,293Z" fill="#5aa860" opacity="0.9"/><rect x="550" y="252.9" width="10.7" height="5.4" rx="1" fill="#3c62c4"/></g>
<defs><linearGradient id="fneck" x1="0" x2="1" y1="0" y2="0"><stop offset="0" stop-color="#9a9ea2"/><stop offset="0.3" stop-color="#6f7377"/><stop offset="0.55" stop-color="#c9cccf"/><stop offset="0.8" stop-color="#85898d"/><stop offset="1" stop-color="#b5b8bb"/></linearGradient><linearGradient id="fbody" x1="0" x2="0" y1="0" y2="1"><stop offset="0" stop-color="#d9dcde"/><stop offset="0.5" stop-color="#eef0f1"/><stop offset="1" stop-color="#dfe2e4"/></linearGradient></defs>
<path d="M607.8,489.8 L639,489.8 L636.2,514.2 L640.3,533.2 L651.1,573.9 L659.3,606.4 Q660,618 656.6,620 Q640,625 625.4,624 Q608,625 594.2,620 Q590,616 591.5,606.4 L598.3,573.9 L607.8,533.2 L612.6,514.2 Z" fill="url(#fneck)"/>
<path d="M604.5,541 L644,541 L651.1,573.9 L659.3,606.4 Q660,618 656.6,620 Q640,625 625.4,624 Q608,625 594.2,620 Q590,616 591.5,606.4 L598.3,573.9 Z" fill="url(#fbody)"/>
<path d="M600,585 Q625,575 652,588" stroke="#c4c7ca" stroke-width="3" fill="none" opacity="0.7"/>
<path d="M612,600 Q628,592 640,610" stroke="#ffffff" stroke-width="5" fill="none" opacity="0.8"/>
<path d="M626.7,471 Q629,476 627,484 L622,541" stroke="#8a8e92" stroke-width="3" fill="none"/>
<ellipse cx="623.4" cy="490" rx="15.6" ry="2" fill="#5f6367" opacity="0.8"/>
<path d="M616,500 L611,560" stroke="#eef0f1" stroke-width="2" opacity="0.6"/>
<path d="M754.5,149.7 L769.8,128.9 L803.2,116.7 L834,121.7 L844.8,130.7 L862.9,129.8 L856.5,169.6 L841.2,161.4 L824.9,147 L824.9,145.2 L812.3,138.8 L783.4,142.5 L768,155.1Z" fill="#c8b98a"/>
<path d="M763.0,145.9 C764.6,144.1 769.4,137.9 772.9,135.2 C776.4,132.5 777.9,131.2 784.3,129.5 C790.6,127.8 803.4,125.1 811.0,124.9 C818.6,124.7 825.0,126.6 830.1,128.3 C835.2,130.0 838.5,131.9 841.5,135.2 C844.5,138.5 847.1,144.2 848.4,148.1 C849.7,152.0 849.1,157.0 849.2,158.8" fill="none" stroke="#111" stroke-width="3" stroke-linecap="round"/>
<path d="M836.2,145.5 L849.2,158.8 L853.7,135.9" fill="none" stroke="#111" stroke-width="3" stroke-linecap="round" stroke-linejoin="round"/>
<path d="M518.7,388.8 L522.8,401.7 L509.3,415.2 L503.2,445 L509.3,457.2 L529.6,488.3 L490.3,494.4 L491,477.5 L482.9,454.5 L482.2,432.8 L494.4,407.1Z" fill="#8a9c63"/>
<path d="M514.7,396.2 C513.1,397.3 508.1,400.3 505.2,403.0 C502.3,405.7 499.4,408.9 497.1,412.5 C494.9,416.1 492.9,420.0 491.7,424.7 C490.4,429.4 489.6,435.7 489.6,440.9 C489.6,446.1 490.4,451.3 491.7,455.8 C492.9,460.3 494.9,464.4 497.1,468.0 C499.4,471.6 501.8,475.1 505.2,477.5 C508.6,479.9 515.4,481.4 517.4,482.2" fill="none" stroke="#111" stroke-width="3" stroke-linecap="round"/>
<path d="M507.9,468.7 L518.7,482.2 L496.4,484.9" fill="none" stroke="#111" stroke-width="3" stroke-linecap="round" stroke-linejoin="round"/>
<path d="M755.2,729.6 L768.7,725.4 L781.4,738.5 L812.7,745.7 L824.6,742.3 L824.6,737.7 L856.7,718.2 L862.2,757.6 L843.2,756.7 L832.2,762.6 L800,766.4 L787.3,759.2 L769.5,749.9Z" fill="#c8b98a"/>
<path d="M763.2,733.4 C764.4,735.3 767.8,742.0 770.4,744.9 C773.0,747.8 774.7,748.8 778.9,750.8 C783.1,752.8 790.4,755.4 795.8,756.7 C801.1,758.0 805.4,758.5 811.0,758.4 C816.6,758.3 824.4,757.7 829.6,755.9 C834.8,754.1 839.2,750.5 842.3,747.4 C845.4,744.3 847.0,740.3 848.3,737.2 C849.6,734.1 849.7,730.2 850.0,728.8" fill="none" stroke="#111" stroke-width="3" stroke-linecap="round"/>
<path d="M836,741 L850,728.8 L852.5,751.6" fill="none" stroke="#111" stroke-width="3" stroke-linecap="round" stroke-linejoin="round"/>
<circle cx="1179.5" cy="454" r="390" fill="#b3b9a9"/>
<circle cx="1181" cy="454.5" r="324.5" fill="#879862"/>
<circle cx="1178.4" cy="451.6" r="324.6" fill="#fff"/>
<g clip-path="url(#wdisc)">
<circle cx="1178.3" cy="451.2" r="292.0" fill="none" stroke="#879862" stroke-width="54"/>
<circle cx="1178.3" cy="451.2" r="318.5" fill="none" stroke="#74874c" stroke-width="1.2" opacity="0.7"/>
<circle cx="1178.3" cy="451.2" r="265" fill="#c6b887" stroke="#74874c" stroke-width="1.2" stroke-opacity="0.7"/>
<circle cx="1174.3" cy="446.9" r="258.6" fill="#c6b887" stroke="#fff" stroke-width="7"/>
<line x1="1179" y1="443.5" x2="1179.5" y2="100.0" stroke="#74874c" stroke-width="10" opacity="0.5"/>
<line x1="1179" y1="443.5" x2="1180.9" y2="800.0" stroke="#74874c" stroke-width="10" opacity="0.5"/>
<line x1="1179" y1="443.5" x2="880.0" y2="277.6" stroke="#74874c" stroke-width="10" opacity="0.5"/>
<line x1="1179" y1="443.5" x2="1470.0" y2="259.9" stroke="#74874c" stroke-width="10" opacity="0.5"/>
<line x1="1179" y1="443.5" x2="880.0" y2="631.9" stroke="#74874c" stroke-width="10" opacity="0.5"/>
<line x1="1179" y1="443.5" x2="1470.0" y2="608.5" stroke="#74874c" stroke-width="10" opacity="0.5"/>
<line x1="1179" y1="443.5" x2="1179.5" y2="100.0" stroke="#fff" stroke-width="8"/>
<line x1="1179" y1="443.5" x2="1180.9" y2="800.0" stroke="#fff" stroke-width="8"/>
<line x1="1179" y1="443.5" x2="880.0" y2="277.6" stroke="#fff" stroke-width="8"/>
<line x1="1179" y1="443.5" x2="1470.0" y2="259.9" stroke="#fff" stroke-width="8"/>
<line x1="1179" y1="443.5" x2="880.0" y2="631.9" stroke="#fff" stroke-width="8"/>
<line x1="1179" y1="443.5" x2="1470.0" y2="608.5" stroke="#fff" stroke-width="8"/>
</g>
<path id="pa" d="M862.00,207.08 A650,650 0 0 1 1512.00,207.08" fill="none"/>
<text font-size="40.5" font-family="Liberation Sans, sans-serif" font-weight="bold" fill="#0d0d0d" stroke="#d3d8cb" stroke-width="2" stroke-linejoin="round" paint-order="stroke"><textPath href="#pa" startOffset="50%" text-anchor="middle" textLength="293" lengthAdjust="spacingAndGlyphs">Protein Analysis</textPath></text>
<path id="pq" d="M918.43,554.09 A279.5,279.5 0 0 1 1387.31,265.63" fill="none"/>
<text font-size="22" font-family="Liberation Sans, sans-serif" font-weight="bold" fill="#0d0d0d" stroke="#a4b67c" stroke-width="2" stroke-linejoin="round" paint-order="stroke"><textPath href="#pq" startOffset="50%" text-anchor="middle">Protein quantification</textPath></text>
<path id="mi" d="M959.93,289.03 A272,272 0 0 1 1438.96,528.91" fill="none"/>
<text font-size="21.5" font-family="Liberation Sans, sans-serif" font-weight="bold" fill="#0d0d0d" stroke="#a4b67c" stroke-width="2" stroke-linejoin="round" paint-order="stroke"><textPath href="#mi" startOffset="50%" text-anchor="middle">Microscopy</textPath></text>
<path id="ss" d="M1216.84,180.43 A273.5,273.5 0 0 1 1234.70,718.82" fill="none"/>
<text font-size="21.6" font-family="Liberation Sans, sans-serif" font-weight="bold" fill="#0d0d0d" stroke="#a4b67c" stroke-width="2" stroke-linejoin="round" paint-order="stroke"><textPath href="#ss" startOffset="50%" text-anchor="middle">Secondary structure</textPath></text>
<path id="ts" d="M945.29,625.52 A291,291 0 0 0 1456.88,367.09" fill="none"/>
<text font-size="23" font-family="Liberation Sans, sans-serif" font-weight="bold" fill="#0d0d0d" stroke="#a4b67c" stroke-width="2" stroke-linejoin="round" paint-order="stroke"><textPath href="#ts" startOffset="50%" text-anchor="middle">Terciary structure</textPath></text>
<path id="ft" d="M902.20,328.85 A302,302 0 0 0 1395.91,660.61" fill="none"/>
<text font-size="20" font-family="Liberation Sans, sans-serif" font-weight="bold" fill="#0d0d0d" stroke="#a4b67c" stroke-width="2" stroke-linejoin="round" paint-order="stroke"><textPath href="#ft" startOffset="50%" text-anchor="middle">FTIR</textPath></text>
<path id="pm" d="M1123.02,161.43 A295,295 0 0 0 1131.14,742.41" fill="none"/>
<text font-size="22.3" font-family="Liberation Sans, sans-serif" font-weight="bold" fill="#0d0d0d" stroke="#a4b67c" stroke-width="2" stroke-linejoin="round" paint-order="stroke"><textPath href="#pm" startOffset="50%" text-anchor="middle">Protein molecular weight</textPath></text>
<g>
<path d="M1039.1,265.3 L1039.1,347.1 L1162.2,347.1" fill="none" stroke="#6e6650" stroke-width="0.9"/>
<line x1="1101.2" y1="265.3" x2="1101.2" y2="347.1" stroke="#3a3628" stroke-width="0.9"/>
<line x1="1037.5" y1="265.3" x2="1039.1" y2="265.3" stroke="#6e6650" stroke-width="0.6"/>
<text x="1037" y="266.8" font-size="4.5" font-family="Liberation Sans, sans-serif" text-anchor="end" fill="#221f16" stroke="#221f16" stroke-width="0.15" >100</text>
<line x1="1037.5" y1="281.7" x2="1039.1" y2="281.7" stroke="#6e6650" stroke-width="0.6"/>
<text x="1037" y="283.16" font-size="4.5" font-family="Liberation Sans, sans-serif" text-anchor="end" fill="#221f16" stroke="#221f16" stroke-width="0.15" >80</text>
<line x1="1037.5" y1="298.0" x2="1039.1" y2="298.0" stroke="#6e6650" stroke-width="0.6"/>
<text x="1037" y="299.52" font-size="4.5" font-family="Liberation Sans, sans-serif" text-anchor="end" fill="#221f16" stroke="#221f16" stroke-width="0.15" >60</text>
<line x1="1037.5" y1="314.4" x2="1039.1" y2="314.4" stroke="#6e6650" stroke-width="0.6"/>
<text x="1037" y="315.88" font-size="4.5" font-family="Liberation Sans, sans-serif" text-anchor="end" fill="#221f16" stroke="#221f16" stroke-width="0.15" >40</text>
<line x1="1037.5" y1="330.7" x2="1039.1" y2="330.7" stroke="#6e6650" stroke-width="0.6"/>
<text x="1037" y="332.24" font-size="4.5" font-family="Liberation Sans, sans-serif" text-anchor="end" fill="#221f16" stroke="#221f16" stroke-width="0.15" >20</text>
<line x1="1037.5" y1="347.1" x2="1039.1" y2="347.1" stroke="#6e6650" stroke-width="0.6"/>
<text x="1037" y="348.6" font-size="4.5" font-family="Liberation Sans, sans-serif" text-anchor="end" fill="#221f16" stroke="#221f16" stroke-width="0.15" >0</text>
<rect x="1045.2" y="326.7" width="9.3" height="20.4" fill="#2f61d6"/>
<line x1="1049.8" y1="323.7" x2="1049.8" y2="326.7" stroke="#333" stroke-width="0.5"/>
<text x="1049.85" y="322.7" font-size="3.5" font-family="Liberation Sans, sans-serif" text-anchor="middle" fill="#221f16" stroke="#221f16" stroke-width="0.15" >a</text>
<rect x="1054.5" y="283.3" width="10.0" height="63.8" fill="#4297ea"/>
<line x1="1059.5" y1="280.3" x2="1059.5" y2="283.3" stroke="#333" stroke-width="0.5"/>
<text x="1059.5" y="279.3" font-size="3.5" font-family="Liberation Sans, sans-serif" text-anchor="middle" fill="#221f16" stroke="#221f16" stroke-width="0.15" >a</text>
<rect x="1074.3" y="327.2" width="9.7" height="19.9" fill="#2f61d6"/>
<line x1="1079.2" y1="324.2" x2="1079.2" y2="327.2" stroke="#333" stroke-width="0.5"/>
<text x="1079.15" y="323.2" font-size="3.5" font-family="Liberation Sans, sans-serif" text-anchor="middle" fill="#221f16" stroke="#221f16" stroke-width="0.15" >a</text>
<rect x="1084" y="298.8" width="10.0" height="48.3" fill="#4297ea"/>
<line x1="1089.0" y1="295.8" x2="1089.0" y2="298.8" stroke="#333" stroke-width="0.5"/>
<text x="1089.0" y="294.8" font-size="3.5" font-family="Liberation Sans, sans-serif" text-anchor="middle" fill="#221f16" stroke="#221f16" stroke-width="0.15" >a</text>
<rect x="1108.7" y="318.5" width="9.3" height="28.6" fill="#2f61d6"/>
<line x1="1113.3" y1="315.5" x2="1113.3" y2="318.5" stroke="#333" stroke-width="0.5"/>
<text x="1113.35" y="314.5" font-size="3.5" font-family="Liberation Sans, sans-serif" text-anchor="middle" fill="#221f16" stroke="#221f16" stroke-width="0.15" >a</text>
<rect x="1118" y="269.4" width="10.2" height="77.7" fill="#4297ea"/>
<line x1="1123.1" y1="266.4" x2="1123.1" y2="269.4" stroke="#333" stroke-width="0.5"/>
<text x="1123.1" y="265.4" font-size="3.5" font-family="Liberation Sans, sans-serif" text-anchor="middle" fill="#221f16" stroke="#221f16" stroke-width="0.15" >a</text>
<rect x="1137.7" y="320.4" width="9.8" height="26.7" fill="#2f61d6"/>
<line x1="1142.6" y1="317.4" x2="1142.6" y2="320.4" stroke="#333" stroke-width="0.5"/>
<text x="1142.6" y="316.4" font-size="3.5" font-family="Liberation Sans, sans-serif" text-anchor="middle" fill="#221f16" stroke="#221f16" stroke-width="0.15" >a</text>
<rect x="1147.5" y="275.1" width="10.2" height="72.0" fill="#4297ea"/>
<line x1="1152.6" y1="272.1" x2="1152.6" y2="275.1" stroke="#333" stroke-width="0.5"/>
<text x="1152.6" y="271.1" font-size="3.5" font-family="Liberation Sans, sans-serif" text-anchor="middle" fill="#221f16" stroke="#221f16" stroke-width="0.15" >a</text>
<text x="1070.2" y="251.5" font-size="5.2" font-family="Liberation Sans, sans-serif" text-anchor="middle" fill="#221f16" stroke="#221f16" stroke-width="0.15" >Spray Dried</text>
<text x="1131.5" y="251.5" font-size="5.2" font-family="Liberation Sans, sans-serif" text-anchor="middle" fill="#221f16" stroke="#221f16" stroke-width="0.15" >Fresh Paste</text>
<text x="1055" y="354" font-size="4" font-family="Liberation Sans, sans-serif" text-anchor="middle" fill="#221f16" stroke="#221f16" stroke-width="0.15" >N. oceanica</text>
<text x="1083.7" y="354" font-size="4" font-family="Liberation Sans, sans-serif" text-anchor="middle" fill="#221f16" stroke="#221f16" stroke-width="0.15" >T. chui</text>
<text x="1118.9" y="354" font-size="4" font-family="Liberation Sans, sans-serif" text-anchor="middle" fill="#221f16" stroke="#221f16" stroke-width="0.15" >N. oceanica</text>
<text x="1148.3" y="354" font-size="4" font-family="Liberation Sans, sans-serif" text-anchor="middle" fill="#221f16" stroke="#221f16" stroke-width="0.15" >T. chui</text>
<text x="1017" y="306" font-size="3.5" font-family="Liberation Serif, serif" fill="#3a3628" transform="rotate(-90 1017 306)" text-anchor="middle">Protein content (%)</text>
</g>
<clipPath id="cl11"><ellipse cx="1240.9" cy="251.8" rx="40.3" ry="34"/></clipPath>
<ellipse cx="1240.9" cy="251.8" rx="40.3" ry="34" fill="#c6cdd1"/>
<g clip-path="url(#cl11)">
</g>
<g clip-path="url(#cl11)">
<circle cx="1231.5" cy="223.0" r="1.8" fill="#74903f" opacity="0.8"/>
<circle cx="1231.5" cy="223.0" r="0.8" fill="#a9bb7c" opacity="0.5"/>
<circle cx="1226.2" cy="226.3" r="1.3" fill="#6d8a3a" opacity="0.8"/>
<circle cx="1226.2" cy="226.3" r="0.6" fill="#a9bb7c" opacity="0.5"/>
<circle cx="1235.4" cy="227.6" r="1.6" fill="#6d8a3a" opacity="0.8"/>
<circle cx="1235.4" cy="227.6" r="0.7" fill="#a9bb7c" opacity="0.5"/>
<circle cx="1239.9" cy="226.3" r="1.7" fill="#74903f" opacity="0.8"/>
<circle cx="1239.9" cy="226.3" r="0.8" fill="#a9bb7c" opacity="0.5"/>
<circle cx="1239.9" cy="234.7" r="1.6" fill="#7e9a48" opacity="0.8"/>
<circle cx="1239.9" cy="234.7" r="0.7" fill="#a9bb7c" opacity="0.5"/>
<circle cx="1248.5" cy="230.1" r="1.4" fill="#94aa62" opacity="0.8"/>
<circle cx="1248.5" cy="230.1" r="0.6" fill="#a9bb7c" opacity="0.5"/>
<circle cx="1250.5" cy="225.0" r="1.8" fill="#89a455" opacity="0.8"/>
<circle cx="1250.5" cy="225.0" r="0.8" fill="#a9bb7c" opacity="0.5"/>
<circle cx="1230.1" cy="230.8" r="1.2" fill="#7e9a48" opacity="0.8"/>
<circle cx="1230.1" cy="230.8" r="0.5" fill="#a9bb7c" opacity="0.5"/>
<circle cx="1235.4" cy="234.1" r="1.3" fill="#89a455" opacity="0.8"/>
<circle cx="1235.4" cy="234.1" r="0.6" fill="#a9bb7c" opacity="0.5"/>
<circle cx="1228.2" cy="220.3" r="1.0" fill="#7e9a48" opacity="0.8"/>
<circle cx="1228.2" cy="220.3" r="0.5" fill="#a9bb7c" opacity="0.5"/>
<circle cx="1245.9" cy="222.3" r="1.0" fill="#6d8a3a" opacity="0.8"/>
<circle cx="1245.9" cy="222.3" r="0.5" fill="#a9bb7c" opacity="0.5"/>
<circle cx="1203.3" cy="255.1" r="1.3" fill="#94aa62" opacity="0.8"/>
<circle cx="1203.3" cy="255.1" r="0.6" fill="#a9bb7c" opacity="0.5"/>
<circle cx="1206.5" cy="253.1" r="1.4" fill="#89a455" opacity="0.8"/>
<circle cx="1206.5" cy="253.1" r="0.6" fill="#a9bb7c" opacity="0.5"/>
<circle cx="1211.8" cy="251.1" r="1.8" fill="#94aa62" opacity="0.8"/>
<circle cx="1211.8" cy="251.1" r="0.8" fill="#a9bb7c" opacity="0.5"/>
<circle cx="1215.1" cy="252.5" r="1.3" fill="#74903f" opacity="0.8"/>
<circle cx="1215.1" cy="252.5" r="0.6" fill="#a9bb7c" opacity="0.5"/>
<circle cx="1223.6" cy="253.8" r="1.6" fill="#7e9a48" opacity="0.8"/>
<circle cx="1223.6" cy="253.8" r="0.7" fill="#a9bb7c" opacity="0.5"/>
<circle cx="1230.1" cy="256.4" r="2.1" fill="#74903f" opacity="0.8"/>
<circle cx="1230.1" cy="256.4" r="1.0" fill="#a9bb7c" opacity="0.5"/>
<circle cx="1235.4" cy="257.1" r="1.4" fill="#89a455" opacity="0.8"/>
<circle cx="1235.4" cy="257.1" r="0.6" fill="#a9bb7c" opacity="0.5"/>
<circle cx="1238.6" cy="258.4" r="1.3" fill="#7e9a48" opacity="0.8"/>
<circle cx="1238.6" cy="258.4" r="0.6" fill="#a9bb7c" opacity="0.5"/>
<circle cx="1245.9" cy="255.8" r="1.7" fill="#89a455" opacity="0.8"/>
<circle cx="1245.9" cy="255.8" r="0.8" fill="#a9bb7c" opacity="0.5"/>
<circle cx="1251.8" cy="249.2" r="1.6" fill="#94aa62" opacity="0.8"/>
<circle cx="1251.8" cy="249.2" r="0.7" fill="#a9bb7c" opacity="0.5"/>
<circle cx="1255.0" cy="245.2" r="1.8" fill="#6d8a3a" opacity="0.8"/>
<circle cx="1255.0" cy="245.2" r="0.8" fill="#a9bb7c" opacity="0.5"/>
<circle cx="1259.0" cy="243.9" r="1.4" fill="#89a455" opacity="0.8"/>
<circle cx="1259.0" cy="243.9" r="0.6" fill="#a9bb7c" opacity="0.5"/>
<circle cx="1258.3" cy="250.5" r="1.7" fill="#94aa62" opacity="0.8"/>
<circle cx="1258.3" cy="250.5" r="0.8" fill="#a9bb7c" opacity="0.5"/>
<circle cx="1260.3" cy="257.7" r="1.6" fill="#89a455" opacity="0.8"/>
<circle cx="1260.3" cy="257.7" r="0.7" fill="#a9bb7c" opacity="0.5"/>
<circle cx="1265.6" cy="260.3" r="1.4" fill="#7e9a48" opacity="0.8"/>
<circle cx="1265.6" cy="260.3" r="0.6" fill="#a9bb7c" opacity="0.5"/>
<circle cx="1270.1" cy="257.7" r="2.4" fill="#89a455" opacity="0.8"/>
<circle cx="1270.1" cy="257.7" r="1.1" fill="#a9bb7c" opacity="0.5"/>
<circle cx="1274.7" cy="253.8" r="1.3" fill="#74903f" opacity="0.8"/>
<circle cx="1274.7" cy="253.8" r="0.6" fill="#a9bb7c" opacity="0.5"/>
<circle cx="1278.0" cy="255.1" r="1.2" fill="#74903f" opacity="0.8"/>
<circle cx="1278.0" cy="255.1" r="0.5" fill="#a9bb7c" opacity="0.5"/>
<circle cx="1219.7" cy="251.1" r="1.0" fill="#94aa62" opacity="0.8"/>
<circle cx="1219.7" cy="251.1" r="0.5" fill="#a9bb7c" opacity="0.5"/>
<circle cx="1240.6" cy="251.1" r="0.9" fill="#89a455" opacity="0.8"/>
<circle cx="1240.6" cy="251.1" r="0.4" fill="#a9bb7c" opacity="0.5"/>
<circle cx="1253.7" cy="253.8" r="1.0" fill="#89a455" opacity="0.8"/>
<circle cx="1253.7" cy="253.8" r="0.5" fill="#a9bb7c" opacity="0.5"/>
<circle cx="1217.7" cy="266.9" r="1.4" fill="#7e9a48" opacity="0.8"/>
<circle cx="1217.7" cy="266.9" r="0.6" fill="#a9bb7c" opacity="0.5"/>
<circle cx="1210.4" cy="272.8" r="1.2" fill="#7e9a48" opacity="0.8"/>
<circle cx="1210.4" cy="272.8" r="0.5" fill="#a9bb7c" opacity="0.5"/>
<circle cx="1217.0" cy="272.1" r="1.3" fill="#89a455" opacity="0.8"/>
<circle cx="1217.0" cy="272.1" r="0.6" fill="#a9bb7c" opacity="0.5"/>
<circle cx="1226.2" cy="278.6" r="1.8" fill="#89a455" opacity="0.8"/>
<circle cx="1226.2" cy="278.6" r="0.8" fill="#a9bb7c" opacity="0.5"/>
<circle cx="1231.5" cy="273.5" r="1.6" fill="#89a455" opacity="0.8"/>
<circle cx="1231.5" cy="273.5" r="0.7" fill="#a9bb7c" opacity="0.5"/>
<circle cx="1238.6" cy="269.5" r="2.0" fill="#89a455" opacity="0.8"/>
<circle cx="1238.6" cy="269.5" r="0.9" fill="#a9bb7c" opacity="0.5"/>
<circle cx="1236.7" cy="275.4" r="1.3" fill="#6d8a3a" opacity="0.8"/>
<circle cx="1236.7" cy="275.4" r="0.6" fill="#a9bb7c" opacity="0.5"/>
<circle cx="1243.2" cy="279.3" r="1.4" fill="#6d8a3a" opacity="0.8"/>
<circle cx="1243.2" cy="279.3" r="0.6" fill="#a9bb7c" opacity="0.5"/>
<circle cx="1248.5" cy="281.9" r="1.6" fill="#89a455" opacity="0.8"/>
<circle cx="1248.5" cy="281.9" r="0.7" fill="#a9bb7c" opacity="0.5"/>
<circle cx="1253.7" cy="279.3" r="1.3" fill="#74903f" opacity="0.8"/>
<circle cx="1253.7" cy="279.3" r="0.6" fill="#a9bb7c" opacity="0.5"/>
<circle cx="1257.6" cy="276.7" r="1.7" fill="#89a455" opacity="0.8"/>
<circle cx="1257.6" cy="276.7" r="0.8" fill="#a9bb7c" opacity="0.5"/>
<circle cx="1261.6" cy="272.1" r="1.6" fill="#89a455" opacity="0.8"/>
<circle cx="1261.6" cy="272.1" r="0.7" fill="#a9bb7c" opacity="0.5"/>
<circle cx="1266.2" cy="270.2" r="1.8" fill="#89a455" opacity="0.8"/>
<circle cx="1266.2" cy="270.2" r="0.8" fill="#a9bb7c" opacity="0.5"/>
<circle cx="1259.0" cy="264.2" r="1.4" fill="#94aa62" opacity="0.8"/>
<circle cx="1259.0" cy="264.2" r="0.6" fill="#a9bb7c" opacity="0.5"/>
<circle cx="1264.2" cy="266.9" r="1.6" fill="#6d8a3a" opacity="0.8"/>
<circle cx="1264.2" cy="266.9" r="0.7" fill="#a9bb7c" opacity="0.5"/>
<circle cx="1239.3" cy="283.3" r="1.2" fill="#7e9a48" opacity="0.8"/>
<circle cx="1239.3" cy="283.3" r="0.5" fill="#a9bb7c" opacity="0.5"/>
<circle cx="1219.7" cy="278.6" r="1.2" fill="#6d8a3a" opacity="0.8"/>
<circle cx="1219.7" cy="278.6" r="0.5" fill="#a9bb7c" opacity="0.5"/>
<circle cx="1230.1" cy="281.3" r="1.3" fill="#94aa62" opacity="0.8"/>
<circle cx="1230.1" cy="281.3" r="0.6" fill="#a9bb7c" opacity="0.5"/>
<circle cx="1213.1" cy="277.3" r="1.0" fill="#89a455" opacity="0.8"/>
<circle cx="1213.1" cy="277.3" r="0.5" fill="#a9bb7c" opacity="0.5"/>
<circle cx="1272.1" cy="262.9" r="1.0" fill="#89a455" opacity="0.8"/>
<circle cx="1272.1" cy="262.9" r="0.5" fill="#a9bb7c" opacity="0.5"/>
</g>
<clipPath id="cl12"><ellipse cx="1248.1" cy="339.1" rx="40.8" ry="34.1"/></clipPath>
<ellipse cx="1248.1" cy="339.1" rx="40.8" ry="34.1" fill="#dcc2bc"/>
<g clip-path="url(#cl12)">
</g>
<g clip-path="url(#cl12)">
<ellipse cx="1247.4" cy="308.7" rx="2.7" ry="3.1" fill="#6d8b2c" opacity="0.9"/>
<ellipse cx="1246.9" cy="308.1" rx="1.1" ry="1.2" fill="#8aa645" opacity="0.7"/>
<ellipse cx="1243.6" cy="314.5" rx="2.7" ry="3.1" fill="#6d8b2c" opacity="0.9"/>
<ellipse cx="1243.0" cy="313.9" rx="1.1" ry="1.2" fill="#8aa645" opacity="0.7"/>
<ellipse cx="1254.6" cy="311.9" rx="2.7" ry="3.1" fill="#6d8b2c" opacity="0.9"/>
<ellipse cx="1254.0" cy="311.4" rx="1.1" ry="1.2" fill="#8aa645" opacity="0.7"/>
<ellipse cx="1259.1" cy="316.4" rx="2.7" ry="3.1" fill="#6d8b2c" opacity="0.9"/>
<ellipse cx="1258.6" cy="315.9" rx="1.1" ry="1.2" fill="#8aa645" opacity="0.7"/>
<ellipse cx="1264.3" cy="311.9" rx="2.7" ry="3.1" fill="#6d8b2c" opacity="0.9"/>
<ellipse cx="1263.8" cy="311.4" rx="1.1" ry="1.2" fill="#8aa645" opacity="0.7"/>
<ellipse cx="1266.2" cy="317.7" rx="2.7" ry="3.1" fill="#6d8b2c" opacity="0.9"/>
<ellipse cx="1265.6" cy="317.2" rx="1.1" ry="1.2" fill="#8aa645" opacity="0.7"/>
<ellipse cx="1279.8" cy="321.6" rx="2.7" ry="3.1" fill="#6d8b2c" opacity="0.9"/>
<ellipse cx="1279.3" cy="321.1" rx="1.1" ry="1.2" fill="#8aa645" opacity="0.7"/>
<ellipse cx="1217.0" cy="325.5" rx="2.7" ry="3.1" fill="#6d8b2c" opacity="0.9"/>
<ellipse cx="1216.4" cy="324.9" rx="1.1" ry="1.2" fill="#8aa645" opacity="0.7"/>
<ellipse cx="1231.9" cy="326.1" rx="2.7" ry="3.1" fill="#6d8b2c" opacity="0.9"/>
<ellipse cx="1231.4" cy="325.6" rx="1.1" ry="1.2" fill="#8aa645" opacity="0.7"/>
<ellipse cx="1214.4" cy="333.9" rx="2.7" ry="3.1" fill="#6d8b2c" opacity="0.9"/>
<ellipse cx="1213.9" cy="333.4" rx="1.1" ry="1.2" fill="#8aa645" opacity="0.7"/>
<ellipse cx="1222.6" cy="337.8" rx="2.7" ry="3.1" fill="#6d8b2c" opacity="0.9"/>
<ellipse cx="1222.0" cy="337.3" rx="1.1" ry="1.2" fill="#8aa645" opacity="0.7"/>
<ellipse cx="1223.2" cy="343.6" rx="2.7" ry="3.1" fill="#6d8b2c" opacity="0.9"/>
<ellipse cx="1222.7" cy="343.1" rx="1.1" ry="1.2" fill="#8aa645" opacity="0.7"/>
<ellipse cx="1218.3" cy="348.1" rx="2.7" ry="3.1" fill="#6d8b2c" opacity="0.9"/>
<ellipse cx="1217.7" cy="347.6" rx="1.1" ry="1.2" fill="#8aa645" opacity="0.7"/>
<ellipse cx="1220.0" cy="356.6" rx="2.7" ry="3.1" fill="#6d8b2c" opacity="0.9"/>
<ellipse cx="1219.4" cy="356.0" rx="1.1" ry="1.2" fill="#8aa645" opacity="0.7"/>
<ellipse cx="1220.0" cy="363.1" rx="2.7" ry="3.1" fill="#6d8b2c" opacity="0.9"/>
<ellipse cx="1219.4" cy="362.5" rx="1.1" ry="1.2" fill="#8aa645" opacity="0.7"/>
<ellipse cx="1259.1" cy="339.1" rx="2.7" ry="3.1" fill="#6d8b2c" opacity="0.9"/>
<ellipse cx="1258.6" cy="338.6" rx="1.1" ry="1.2" fill="#8aa645" opacity="0.7"/>
<ellipse cx="1257.5" cy="345.6" rx="2.7" ry="3.1" fill="#6d8b2c" opacity="0.9"/>
<ellipse cx="1257.0" cy="345.0" rx="1.1" ry="1.2" fill="#8aa645" opacity="0.7"/>
<ellipse cx="1277.3" cy="337.1" rx="2.7" ry="3.1" fill="#6d8b2c" opacity="0.9"/>
<ellipse cx="1276.7" cy="336.6" rx="1.1" ry="1.2" fill="#8aa645" opacity="0.7"/>
<ellipse cx="1276.6" cy="341.7" rx="2.7" ry="3.1" fill="#6d8b2c" opacity="0.9"/>
<ellipse cx="1276.0" cy="341.1" rx="1.1" ry="1.2" fill="#8aa645" opacity="0.7"/>
<ellipse cx="1283.1" cy="340.4" rx="2.7" ry="3.1" fill="#6d8b2c" opacity="0.9"/>
<ellipse cx="1282.5" cy="339.8" rx="1.1" ry="1.2" fill="#8aa645" opacity="0.7"/>
<ellipse cx="1279.6" cy="346.0" rx="2.7" ry="3.1" fill="#6d8b2c" opacity="0.9"/>
<ellipse cx="1279.0" cy="345.4" rx="1.1" ry="1.2" fill="#8aa645" opacity="0.7"/>
<ellipse cx="1287.0" cy="344.7" rx="2.7" ry="3.1" fill="#6d8b2c" opacity="0.9"/>
<ellipse cx="1286.4" cy="344.2" rx="1.1" ry="1.2" fill="#8aa645" opacity="0.7"/>
<ellipse cx="1273.6" cy="357.3" rx="2.7" ry="3.1" fill="#6d8b2c" opacity="0.9"/>
<ellipse cx="1273.1" cy="356.7" rx="1.1" ry="1.2" fill="#8aa645" opacity="0.7"/>
<ellipse cx="1258.2" cy="371.5" rx="2.7" ry="3.1" fill="#6d8b2c" opacity="0.9"/>
<ellipse cx="1257.6" cy="371.0" rx="1.1" ry="1.2" fill="#8aa645" opacity="0.7"/>
</g>
<g>
<rect x="951.4" y="399.7" width="130.8" height="86.2" fill="none" stroke="#6e6650" stroke-width="1"/>
<line x1="951.4" y1="485.9" x2="951.4" y2="487.5" stroke="#6e6650" stroke-width="0.5"/>
<text x="951.4" y="495.8" font-size="5.2" font-family="Liberation Serif, serif" text-anchor="middle" fill="#221f16" stroke="#221f16" stroke-width="0.15" >0</text>
<line x1="959.1" y1="485.9" x2="959.1" y2="487.5" stroke="#6e6650" stroke-width="0.5"/>
<text x="959.0941176470589" y="495.8" font-size="5.2" font-family="Liberation Serif, serif" text-anchor="middle" fill="#221f16" stroke="#221f16" stroke-width="0.15" >1</text>
<line x1="966.8" y1="485.9" x2="966.8" y2="487.5" stroke="#6e6650" stroke-width="0.5"/>
<text x="966.7882352941176" y="495.8" font-size="5.2" font-family="Liberation Serif, serif" text-anchor="middle" fill="#221f16" stroke="#221f16" stroke-width="0.15" >2</text>
<line x1="974.5" y1="485.9" x2="974.5" y2="487.5" stroke="#6e6650" stroke-width="0.5"/>
<text x="974.4823529411765" y="495.8" font-size="5.2" font-family="Liberation Serif, serif" text-anchor="middle" fill="#221f16" stroke="#221f16" stroke-width="0.15" >3</text>
<line x1="982.2" y1="485.9" x2="982.2" y2="487.5" stroke="#6e6650" stroke-width="0.5"/>
<text x="982.1764705882352" y="495.8" font-size="5.2" font-family="Liberation Serif, serif" text-anchor="middle" fill="#221f16" stroke="#221f16" stroke-width="0.15" >4</text>
<line x1="989.9" y1="485.9" x2="989.9" y2="487.5" stroke="#6e6650" stroke-width="0.5"/>
<text x="989.8705882352941" y="495.8" font-size="5.2" font-family="Liberation Serif, serif" text-anchor="middle" fill="#221f16" stroke="#221f16" stroke-width="0.15" >5</text>
<line x1="997.6" y1="485.9" x2="997.6" y2="487.5" stroke="#6e6650" stroke-width="0.5"/>
<text x="997.5647058823529" y="495.8" font-size="5.2" font-family="Liberation Serif, serif" text-anchor="middle" fill="#221f16" stroke="#221f16" stroke-width="0.15" >6</text>
<line x1="1005.3" y1="485.9" x2="1005.3" y2="487.5" stroke="#6e6650" stroke-width="0.5"/>
<text x="1005.2588235294118" y="495.8" font-size="5.2" font-family="Liberation Serif, serif" text-anchor="middle" fill="#221f16" stroke="#221f16" stroke-width="0.15" >7</text>
<line x1="1013.0" y1="485.9" x2="1013.0" y2="487.5" stroke="#6e6650" stroke-width="0.5"/>
<text x="1012.9529411764706" y="495.8" font-size="5.2" font-family="Liberation Serif, serif" text-anchor="middle" fill="#221f16" stroke="#221f16" stroke-width="0.15" >8</text>
<line x1="1020.6" y1="485.9" x2="1020.6" y2="487.5" stroke="#6e6650" stroke-width="0.5"/>
<text x="1020.6470588235294" y="495.8" font-size="5.2" font-family="Liberation Serif, serif" text-anchor="middle" fill="#221f16" stroke="#221f16" stroke-width="0.15" >9</text>
<line x1="1028.3" y1="485.9" x2="1028.3" y2="487.5" stroke="#6e6650" stroke-width="0.5"/>
<text x="1028.3411764705882" y="495.8" font-size="5.2" font-family="Liberation Serif, serif" text-anchor="middle" fill="#221f16" stroke="#221f16" stroke-width="0.15" >10</text>
<line x1="1036.0" y1="485.9" x2="1036.0" y2="487.5" stroke="#6e6650" stroke-width="0.5"/>
<text x="1036.035294117647" y="495.8" font-size="5.2" font-family="Liberation Serif, serif" text-anchor="middle" fill="#221f16" stroke="#221f16" stroke-width="0.15" >11</text>
<line x1="1043.7" y1="485.9" x2="1043.7" y2="487.5" stroke="#6e6650" stroke-width="0.5"/>
<text x="1043.729411764706" y="495.8" font-size="5.2" font-family="Liberation Serif, serif" text-anchor="middle" fill="#221f16" stroke="#221f16" stroke-width="0.15" >12</text>
<line x1="1051.4" y1="485.9" x2="1051.4" y2="487.5" stroke="#6e6650" stroke-width="0.5"/>
<text x="1051.4235294117648" y="495.8" font-size="5.2" font-family="Liberation Serif, serif" text-anchor="middle" fill="#221f16" stroke="#221f16" stroke-width="0.15" >13</text>
<line x1="1059.1" y1="485.9" x2="1059.1" y2="487.5" stroke="#6e6650" stroke-width="0.5"/>
<text x="1059.1176470588236" y="495.8" font-size="5.2" font-family="Liberation Serif, serif" text-anchor="middle" fill="#221f16" stroke="#221f16" stroke-width="0.15" >14</text>
<line x1="1066.8" y1="485.9" x2="1066.8" y2="487.5" stroke="#6e6650" stroke-width="0.5"/>
<text x="1066.8117647058823" y="495.8" font-size="5.2" font-family="Liberation Serif, serif" text-anchor="middle" fill="#221f16" stroke="#221f16" stroke-width="0.15" >15</text>
<line x1="1074.5" y1="485.9" x2="1074.5" y2="487.5" stroke="#6e6650" stroke-width="0.5"/>
<text x="1074.5058823529412" y="495.8" font-size="5.2" font-family="Liberation Serif, serif" text-anchor="middle" fill="#221f16" stroke="#221f16" stroke-width="0.15" >16</text>
<line x1="1082.2" y1="485.9" x2="1082.2" y2="487.5" stroke="#6e6650" stroke-width="0.5"/>
<text x="1082.2" y="495.8" font-size="5.2" font-family="Liberation Serif, serif" text-anchor="middle" fill="#221f16" stroke="#221f16" stroke-width="0.15" >17</text>
<text x="1016" y="503" font-size="3.5" font-family="Liberation Serif, serif" text-anchor="middle" fill="#221f16" stroke="#221f16" stroke-width="0.15" >Time (min)</text>
<text x="948" y="419" font-size="4.8" font-family="Liberation Serif, serif" text-anchor="end" fill="#221f16" stroke="#221f16" stroke-width="0.15" >400</text>
<text x="948" y="453" font-size="4.8" font-family="Liberation Serif, serif" text-anchor="end" fill="#221f16" stroke="#221f16" stroke-width="0.15" >200</text>
<text x="948" y="487.5" font-size="4.8" font-family="Liberation Serif, serif" text-anchor="end" fill="#221f16" stroke="#221f16" stroke-width="0.15" >0</text>
<text x="940" y="452" font-size="3.5" font-family="Liberation Serif, serif" text-anchor="middle" fill="#3a3628" stroke="#3a3628" stroke-width="0.15" transform="rotate(-90 940 452)">mV</text>
<line x1="1027.7" y1="399.7" x2="1027.7" y2="485.9" stroke="#8d8670" stroke-width="0.6"/>
<line x1="1035.7" y1="399.7" x2="1035.7" y2="485.9" stroke="#8d8670" stroke-width="0.6"/>
<line x1="1043" y1="399.7" x2="1043" y2="485.9" stroke="#8d8670" stroke-width="0.6"/>
<text x="1018" y="409.5" font-size="3" font-family="Liberation Serif, serif" text-anchor="middle" fill="#221f16" stroke="#221f16" stroke-width="0.15" >660 kDa</text>
<text x="1055" y="409.5" font-size="3" font-family="Liberation Serif, serif" text-anchor="middle" fill="#221f16" stroke="#221f16" stroke-width="0.15" >7 kDa</text>
<text x="1075.5" y="411" font-size="5" font-family="Liberation Serif, serif" text-anchor="middle" fill="#222" stroke="#222" stroke-width="0.15" font-weight="bold">A</text>
<polyline points="1028.8,485.5 1028.8,420 1029.5,485.5" fill="none" stroke="#c8a7a8" stroke-width="1"/>
<polyline points="951.4,467.9 983.7,467.9 989,464.5 1000,463.5 1013,462.2 1015.5,451 1017,460 1018.9,467.9 1082.2,467.9" fill="none" stroke="#6fd16c" stroke-width="1.4"/>
<polyline points="951.4,476.7 989.5,476.7 993.9,470.8 1001.3,475.5 1012,474 1024.7,473 1026.2,464.9 1028,476 1032,476.5 1037,474.5 1043,476.5 1049,474.5 1057,475.5 1064,475 1070,476.5 1082.2,476.7" fill="none" stroke="#e05b3a" stroke-width="1.4"/>
<polyline points="951.4,485.5 989.5,485.5 993.9,479.6 1001.3,482 1012,479 1024.7,473.5 1033,472 1036,468 1037.2,454.7 1038.2,469 1040,479 1043,482.5 1048,476 1054,479.5 1057,480 1061.4,467.9 1066,476 1072,478.5 1082.2,479" fill="none" stroke="#5a5fa8" stroke-width="1.2"/>
</g>
<g>
<rect x="1283" y="401.5" width="115.9" height="77.2" fill="none" stroke="#6e6650" stroke-width="1"/>
<line x1="1283" y1="478.7" x2="1283" y2="476" stroke="#6e6650" stroke-width="0.5"/>
<line x1="1287" y1="478.7" x2="1287" y2="477" stroke="#6e6650" stroke-width="0.5"/>
<line x1="1291" y1="478.7" x2="1291" y2="477" stroke="#6e6650" stroke-width="0.5"/>
<line x1="1295" y1="478.7" x2="1295" y2="477" stroke="#6e6650" stroke-width="0.5"/>
<line x1="1299" y1="478.7" x2="1299" y2="477" stroke="#6e6650" stroke-width="0.5"/>
<line x1="1303" y1="478.7" x2="1303" y2="476" stroke="#6e6650" stroke-width="0.5"/>
<line x1="1307" y1="478.7" x2="1307" y2="477" stroke="#6e6650" stroke-width="0.5"/>
<line x1="1311" y1="478.7" x2="1311" y2="477" stroke="#6e6650" stroke-width="0.5"/>
<line x1="1315" y1="478.7" x2="1315" y2="477" stroke="#6e6650" stroke-width="0.5"/>
<line x1="1319" y1="478.7" x2="1319" y2="477" stroke="#6e6650" stroke-width="0.5"/>
<line x1="1323" y1="478.7" x2="1323" y2="476" stroke="#6e6650" stroke-width="0.5"/>
<line x1="1327" y1="478.7" x2="1327" y2="477" stroke="#6e6650" stroke-width="0.5"/>
<line x1="1331" y1="478.7" x2="1331" y2="477" stroke="#6e6650" stroke-width="0.5"/>
<line x1="1335" y1="478.7" x2="1335" y2="477" stroke="#6e6650" stroke-width="0.5"/>
<line x1="1339" y1="478.7" x2="1339" y2="477" stroke="#6e6650" stroke-width="0.5"/>
<line x1="1343" y1="478.7" x2="1343" y2="476" stroke="#6e6650" stroke-width="0.5"/>
<line x1="1347" y1="478.7" x2="1347" y2="477" stroke="#6e6650" stroke-width="0.5"/>
<line x1="1351" y1="478.7" x2="1351" y2="477" stroke="#6e6650" stroke-width="0.5"/>
<line x1="1355" y1="478.7" x2="1355" y2="477" stroke="#6e6650" stroke-width="0.5"/>
<line x1="1359" y1="478.7" x2="1359" y2="477" stroke="#6e6650" stroke-width="0.5"/>
<line x1="1363" y1="478.7" x2="1363" y2="476" stroke="#6e6650" stroke-width="0.5"/>
<line x1="1367" y1="478.7" x2="1367" y2="477" stroke="#6e6650" stroke-width="0.5"/>
<line x1="1371" y1="478.7" x2="1371" y2="477" stroke="#6e6650" stroke-width="0.5"/>
<line x1="1375" y1="478.7" x2="1375" y2="477" stroke="#6e6650" stroke-width="0.5"/>
<line x1="1379" y1="478.7" x2="1379" y2="477" stroke="#6e6650" stroke-width="0.5"/>
<line x1="1383" y1="478.7" x2="1383" y2="476" stroke="#6e6650" stroke-width="0.5"/>
<line x1="1387" y1="478.7" x2="1387" y2="477" stroke="#6e6650" stroke-width="0.5"/>
<line x1="1391" y1="478.7" x2="1391" y2="477" stroke="#6e6650" stroke-width="0.5"/>
<line x1="1395" y1="478.7" x2="1395" y2="477" stroke="#6e6650" stroke-width="0.5"/>
<line x1="1283" y1="401.5" x2="1285.5" y2="401.5" stroke="#6e6650" stroke-width="0.5"/>
<line x1="1283" y1="405.5" x2="1284.5" y2="405.5" stroke="#6e6650" stroke-width="0.5"/>
<line x1="1283" y1="409.5" x2="1284.5" y2="409.5" stroke="#6e6650" stroke-width="0.5"/>
<line x1="1283" y1="413.5" x2="1284.5" y2="413.5" stroke="#6e6650" stroke-width="0.5"/>
<line x1="1283" y1="417.5" x2="1284.5" y2="417.5" stroke="#6e6650" stroke-width="0.5"/>
<line x1="1283" y1="421.5" x2="1285.5" y2="421.5" stroke="#6e6650" stroke-width="0.5"/>
<line x1="1283" y1="425.5" x2="1284.5" y2="425.5" stroke="#6e6650" stroke-width="0.5"/>
<line x1="1283" y1="429.5" x2="1284.5" y2="429.5" stroke="#6e6650" stroke-width="0.5"/>
<line x1="1283" y1="433.5" x2="1284.5" y2="433.5" stroke="#6e6650" stroke-width="0.5"/>
<line x1="1283" y1="437.5" x2="1284.5" y2="437.5" stroke="#6e6650" stroke-width="0.5"/>
<line x1="1283" y1="441.5" x2="1285.5" y2="441.5" stroke="#6e6650" stroke-width="0.5"/>
<line x1="1283" y1="445.5" x2="1284.5" y2="445.5" stroke="#6e6650" stroke-width="0.5"/>
<line x1="1283" y1="449.5" x2="1284.5" y2="449.5" stroke="#6e6650" stroke-width="0.5"/>
<line x1="1283" y1="453.5" x2="1284.5" y2="453.5" stroke="#6e6650" stroke-width="0.5"/>
<line x1="1283" y1="457.5" x2="1284.5" y2="457.5" stroke="#6e6650" stroke-width="0.5"/>
<line x1="1283" y1="461.5" x2="1285.5" y2="461.5" stroke="#6e6650" stroke-width="0.5"/>
<line x1="1283" y1="465.5" x2="1284.5" y2="465.5" stroke="#6e6650" stroke-width="0.5"/>
<line x1="1283" y1="469.5" x2="1284.5" y2="469.5" stroke="#6e6650" stroke-width="0.5"/>
<line x1="1283" y1="473.5" x2="1284.5" y2="473.5" stroke="#6e6650" stroke-width="0.5"/>
<line x1="1283" y1="477.5" x2="1284.5" y2="477.5" stroke="#6e6650" stroke-width="0.5"/>
<text x="1302.7" y="488.5" font-size="5.2" font-family="Liberation Serif, serif" text-anchor="middle" fill="#221f16" stroke="#221f16" stroke-width="0.15" >200</text>
<text x="1341.3" y="488.5" font-size="5.2" font-family="Liberation Serif, serif" text-anchor="middle" fill="#221f16" stroke="#221f16" stroke-width="0.15" >220</text>
<text x="1379.9" y="488.5" font-size="5.2" font-family="Liberation Serif, serif" text-anchor="middle" fill="#221f16" stroke="#221f16" stroke-width="0.15" >240</text>
<text x="1280" y="416" font-size="4.8" font-family="Liberation Serif, serif" text-anchor="end" fill="#221f16" stroke="#221f16" stroke-width="0.15" >10</text>
<text x="1280" y="441.5" font-size="4.8" font-family="Liberation Serif, serif" text-anchor="end" fill="#221f16" stroke="#221f16" stroke-width="0.15" >0</text>
<text x="1280" y="467.5" font-size="4.8" font-family="Liberation Serif, serif" text-anchor="end" fill="#221f16" stroke="#221f16" stroke-width="0.15" >-10</text>
<text x="1267" y="441.5" font-size="4" font-family="Liberation Serif, serif" text-anchor="middle" fill="#333" stroke="#333" stroke-width="0.15" transform="rotate(-90 1267 440)">Δε</text>
<text x="1392.1" y="411.5" font-size="5.5" font-family="Liberation Serif, serif" text-anchor="middle" fill="#111" stroke="#111" stroke-width="0.15" font-weight="bold">A</text>
<path d="M1283,437.4 L1296,438 L1310,440 L1340,441 L1398.9,439.5" fill="none" stroke="#d9a7c0" stroke-width="0.9"/>
<path d="M1283,425.9 C1292,424 1300,440 1312,448 C1325,452 1345,452 1360,448 C1372,444 1385,440 1398.9,439.5" fill="none" stroke="#e59a7a" stroke-width="0.9"/>
<path d="M1283,419.1 C1292,416 1300,438 1314,448.5 C1328,452 1350,452 1362,447 C1374,442 1386,440 1398.9,439.5" fill="none" stroke="#8d7fb8" stroke-width="1.1"/>
<path d="M1283,423.2 C1292,422 1300,444 1316.9,453.7 C1330,454 1344,454 1356,449 C1368,444 1384,440 1398.9,439.5" fill="none" stroke="#3fcf3f" stroke-width="1.6" stroke-dasharray="1.6 1.2"/>
</g>
<g>
<rect x="1034.4" y="552.9" width="127.3" height="84" fill="none" stroke="#6e6650" stroke-width="1"/>
<text x="1031.5" y="554.6" font-size="5" font-family="Liberation Serif, serif" text-anchor="end" fill="#221f16" stroke="#221f16" stroke-width="0.15" >0.6</text>
<text x="1031.5" y="568.15" font-size="5" font-family="Liberation Serif, serif" text-anchor="end" fill="#221f16" stroke="#221f16" stroke-width="0.15" >0.5</text>
<text x="1031.5" y="581.7" font-size="5" font-family="Liberation Serif, serif" text-anchor="end" fill="#221f16" stroke="#221f16" stroke-width="0.15" >0.4</text>
<text x="1031.5" y="595.25" font-size="5" font-family="Liberation Serif, serif" text-anchor="end" fill="#221f16" stroke="#221f16" stroke-width="0.15" >0.3</text>
<text x="1031.5" y="608.8000000000001" font-size="5" font-family="Liberation Serif, serif" text-anchor="end" fill="#221f16" stroke="#221f16" stroke-width="0.15" >0.2</text>
<text x="1031.5" y="622.35" font-size="5" font-family="Liberation Serif, serif" text-anchor="end" fill="#221f16" stroke="#221f16" stroke-width="0.15" >0.1</text>
<text x="1031.5" y="635.9000000000001" font-size="5" font-family="Liberation Serif, serif" text-anchor="end" fill="#221f16" stroke="#221f16" stroke-width="0.15" >0.0</text>
<text x="1035.0" y="646.5" font-size="5.2" font-family="Liberation Serif, serif" text-anchor="middle" fill="#221f16" stroke="#221f16" stroke-width="0.15" >4000</text>
<text x="1052.53" y="646.5" font-size="5.2" font-family="Liberation Serif, serif" text-anchor="middle" fill="#221f16" stroke="#221f16" stroke-width="0.15" >3500</text>
<text x="1070.06" y="646.5" font-size="5.2" font-family="Liberation Serif, serif" text-anchor="middle" fill="#221f16" stroke="#221f16" stroke-width="0.15" >3000</text>
<text x="1087.59" y="646.5" font-size="5.2" font-family="Liberation Serif, serif" text-anchor="middle" fill="#221f16" stroke="#221f16" stroke-width="0.15" >2500</text>
<text x="1105.12" y="646.5" font-size="5.2" font-family="Liberation Serif, serif" text-anchor="middle" fill="#221f16" stroke="#221f16" stroke-width="0.15" >2000</text>
<text x="1122.65" y="646.5" font-size="5.2" font-family="Liberation Serif, serif" text-anchor="middle" fill="#221f16" stroke="#221f16" stroke-width="0.15" >1500</text>
<text x="1140.18" y="646.5" font-size="5.2" font-family="Liberation Serif, serif" text-anchor="middle" fill="#221f16" stroke="#221f16" stroke-width="0.15" >1000</text>
<text x="1157.71" y="646.5" font-size="5.2" font-family="Liberation Serif, serif" text-anchor="middle" fill="#221f16" stroke="#221f16" stroke-width="0.15" >500</text>
<path d="M1034.4,636.5 C1038.9,635.5 1055.2,632.2 1061.5,630.8 C1067.8,629.4 1068.2,627.6 1072.3,628.1 C1076.4,628.6 1078.5,633.5 1085.9,633.5 C1093.4,633.5 1111.6,627.9 1117.0,628.1 C1122.4,628.3 1116.9,635.5 1118.4,634.8 C1119.9,634.1 1124.0,624.0 1125.8,624.0 C1127.6,624.0 1127.3,635.7 1129.2,634.8 C1131.1,633.9 1135.4,618.6 1137.4,618.6 C1139.4,618.6 1138.7,634.3 1141.4,634.8 C1144.1,635.2 1151.1,621.8 1153.6,621.3 C1156.1,620.8 1155.0,629.9 1156.3,632.1 C1157.5,634.4 1160.3,634.3 1161.1,634.8" fill="none" stroke="#e39ac0" stroke-width="1.1" stroke-linejoin="round"/>
<path d="M1034.4,636.2 C1037.1,635.3 1046.1,632.4 1050.6,630.8 C1055.1,629.2 1057.9,627.4 1061.5,626.7 C1065.1,626.0 1068.2,625.8 1072.3,626.7 C1076.4,627.6 1079.1,631.0 1085.9,632.1 C1092.7,633.2 1107.8,635.2 1113.0,633.5 C1118.2,631.8 1115.4,623.4 1117.0,622.0 C1118.6,620.6 1121.0,626.0 1122.5,625.4 C1124.0,624.8 1124.7,618.4 1125.8,618.6 C1126.9,618.8 1127.3,628.3 1129.2,626.7 C1131.1,625.1 1135.4,609.3 1137.4,609.1 C1139.4,608.9 1138.7,625.4 1141.4,625.4 C1144.1,625.4 1151.1,610.2 1153.6,609.1 C1156.1,608.0 1155.0,616.6 1156.3,618.6 C1157.5,620.6 1160.3,620.8 1161.1,621.3" fill="none" stroke="#eb8a5a" stroke-width="1.2" stroke-linejoin="round"/>
<path d="M1034.4,633.5 C1036.2,633.4 1042.5,635.3 1045.2,632.8 C1047.9,630.3 1048.8,623.9 1050.6,618.6 C1052.4,613.3 1054.5,604.5 1056.1,601.0 C1057.7,597.5 1058.8,597.1 1060.1,597.6 C1061.4,598.1 1062.6,601.1 1064.2,603.7 C1065.8,606.3 1068.0,611.2 1069.6,613.2 C1071.2,615.2 1072.3,614.1 1073.7,615.9 C1075.1,617.7 1075.7,621.6 1077.7,624.0 C1079.7,626.4 1081.4,628.9 1085.9,630.1 C1090.4,631.4 1100.3,631.2 1104.8,631.5 C1109.3,631.8 1111.0,637.9 1113.0,632.1 C1115.0,626.3 1116.1,603.9 1117.0,596.9 C1117.9,589.9 1117.5,587.8 1118.4,590.1 C1119.3,592.4 1121.3,609.4 1122.5,610.5 C1123.7,611.6 1124.9,597.4 1125.8,596.9 C1126.7,596.4 1126.7,604.5 1127.9,607.7 C1129.2,610.9 1131.6,618.8 1133.3,615.9 C1135.0,613.0 1136.4,590.5 1138.0,590.1 C1139.6,589.7 1141.1,610.0 1142.8,613.2 C1144.5,616.4 1146.4,615.4 1148.2,609.1 C1150.0,602.8 1152.2,583.1 1153.6,575.2 C1154.9,567.3 1155.0,563.6 1156.3,561.7 C1157.5,559.8 1160.3,563.4 1161.1,563.7" fill="none" stroke="#5a6fd6" stroke-width="1.5" stroke-linejoin="round"/>
<path d="M1034.4,636.9 C1036.4,636.8 1042.3,637.6 1046.6,636.2 C1050.9,634.8 1056.3,629.2 1060.1,628.7 C1063.9,628.2 1067.6,634.3 1069.6,633.5 C1071.6,632.7 1070.9,623.8 1072.3,624.0 C1073.7,624.2 1070.9,632.6 1077.7,634.8 C1084.5,636.9 1106.5,638.7 1113.0,636.9 C1119.5,635.1 1115.9,625.5 1117.0,624.0 C1118.1,622.5 1118.8,626.8 1119.7,628.1 C1120.6,629.5 1121.5,631.9 1122.5,632.1 C1123.5,632.3 1124.7,629.2 1125.8,629.4 C1126.9,629.6 1128.0,633.3 1129.2,633.5 C1130.5,633.7 1131.8,632.6 1133.3,630.8 C1134.8,629.0 1136.4,621.9 1138.0,622.6 C1139.6,623.3 1141.3,632.4 1142.8,634.8 C1144.3,637.2 1145.0,637.3 1146.8,636.9 C1148.6,636.5 1152.0,632.7 1153.6,632.1 C1155.2,631.5 1155.0,632.8 1156.3,633.5 C1157.5,634.2 1160.3,635.8 1161.1,636.2" fill="none" stroke="#3fc23f" stroke-width="1.4" stroke-linejoin="round"/>
</g>
<g>
<rect x="1216.4" y="552.9" width="126.7" height="83" fill="none" stroke="#6e6650" stroke-width="1"/>
<text x="1214" y="555.2" font-size="4.8" font-family="Liberation Serif, serif" text-anchor="end" fill="#221f16" stroke="#221f16" stroke-width="0.15" >80000</text>
<text x="1214" y="575.6" font-size="4.8" font-family="Liberation Serif, serif" text-anchor="end" fill="#221f16" stroke="#221f16" stroke-width="0.15" >60000</text>
<text x="1214" y="596.6" font-size="4.8" font-family="Liberation Serif, serif" text-anchor="end" fill="#221f16" stroke="#221f16" stroke-width="0.15" >40000</text>
<text x="1214" y="616.9000000000001" font-size="4.8" font-family="Liberation Serif, serif" text-anchor="end" fill="#221f16" stroke="#221f16" stroke-width="0.15" >20000</text>
<text x="1214" y="637.6" font-size="4.8" font-family="Liberation Serif, serif" text-anchor="end" fill="#221f16" stroke="#221f16" stroke-width="0.15" >0</text>
<text x="1223.2" y="646.5" font-size="5.2" font-family="Liberation Serif, serif" text-anchor="middle" fill="#221f16" stroke="#221f16" stroke-width="0.15" >300</text>
<text x="1255" y="646.5" font-size="5.2" font-family="Liberation Serif, serif" text-anchor="middle" fill="#221f16" stroke="#221f16" stroke-width="0.15" >350</text>
<text x="1286.9" y="646.5" font-size="5.2" font-family="Liberation Serif, serif" text-anchor="middle" fill="#221f16" stroke="#221f16" stroke-width="0.15" >400</text>
<text x="1318" y="646.5" font-size="5.2" font-family="Liberation Serif, serif" text-anchor="middle" fill="#221f16" stroke="#221f16" stroke-width="0.15" >450</text>
<path d="M1217.1,633.5 C1219.3,633.3 1226.1,632.4 1230.6,632.1 C1235.1,631.8 1238.5,631.7 1244.2,631.9 C1249.9,632.1 1257.7,632.9 1264.5,633.5 C1271.3,634.1 1271.7,635.2 1284.8,635.5 C1297.9,635.8 1333.4,635.5 1343.1,635.5" fill="none" stroke="#e3a6c0" stroke-width="1.1" stroke-linejoin="round"/>
<path d="M1217.1,624.0 C1218.0,620.2 1220.2,609.4 1222.5,601.0 C1224.8,592.6 1227.9,580.9 1230.6,573.9 C1233.3,566.9 1236.6,561.8 1238.8,559.0 C1241.0,556.2 1241.7,556.6 1243.5,557.3 C1245.3,558.0 1247.2,559.1 1249.6,563.0 C1252.0,566.9 1255.0,574.3 1257.7,580.6 C1260.4,586.9 1263.2,594.9 1265.9,601.0 C1268.6,607.1 1270.8,612.7 1274.0,617.2 C1277.2,621.7 1280.7,625.4 1284.8,628.1 C1288.9,630.8 1288.7,632.4 1298.4,633.5 C1308.1,634.6 1335.6,634.6 1343.1,634.8" fill="none" stroke="#ec8a5f" stroke-width="1.5" stroke-linejoin="round"/>
<path d="M1217.1,634.8 C1219.3,633.2 1226.1,627.9 1230.6,625.4 C1235.1,622.9 1240.3,620.6 1244.2,619.9 C1248.1,619.2 1249.2,620.2 1253.7,621.3 C1258.2,622.4 1265.0,624.8 1271.3,626.7 C1277.6,628.6 1279.6,631.4 1291.6,632.8 C1303.6,634.1 1334.5,634.5 1343.1,634.8" fill="none" stroke="#5b6fd2" stroke-width="1.5" stroke-linejoin="round"/>
<path d="M1217.8,588.1 C1218.1,590.2 1219.1,595.2 1219.8,601.0 C1220.5,606.8 1220.9,618.1 1221.8,622.6 C1222.7,627.1 1223.7,626.9 1225.2,628.1 C1226.7,629.4 1227.4,630.0 1230.6,630.1 C1233.8,630.2 1239.7,628.7 1244.2,628.7 C1248.7,628.7 1250.9,629.2 1257.7,630.1 C1264.5,631.0 1270.6,633.3 1284.8,634.2 C1299.0,635.1 1333.4,635.3 1343.1,635.5" fill="none" stroke="#3fcf3f" stroke-width="1.7" stroke-linejoin="round" stroke-dasharray="1.8 1.4"/>
</g>
</svg>
</body></html>
